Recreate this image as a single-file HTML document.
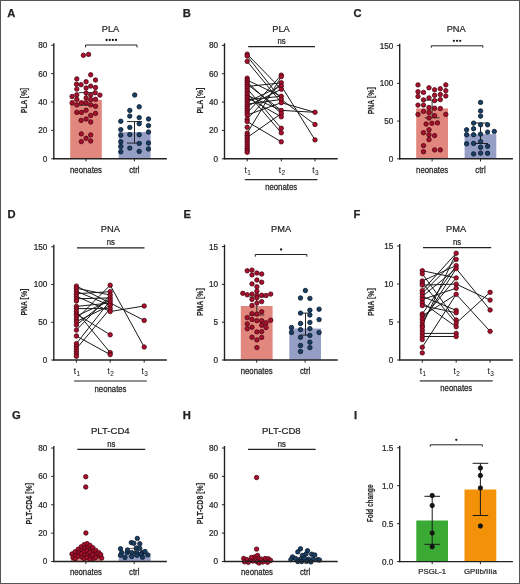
<!DOCTYPE html>
<html><head><meta charset="utf-8"><style>
html,body{margin:0;padding:0;background:#fff;}
svg{display:block;will-change:transform;font-family:"Liberation Sans",sans-serif;}
</style></head><body>
<svg width="520" height="584" viewBox="0 0 520 584">
<rect x="0" y="0" width="520" height="584" fill="#fff"/>
<text x="7.20" y="17.00" font-size="11.2" font-weight="bold" fill="#222" stroke="#222" stroke-width="0.25">A</text>
<text x="110.50" y="31.60" font-size="9.3" text-anchor="middle" font-weight="normal" fill="#262626" stroke="#262626" stroke-width="0.22" >PLA</text>
<rect x="70.20" y="99.86" width="31.60" height="58.89" fill="#e2877d"/>
<rect x="118.70" y="132.10" width="31.90" height="26.65" fill="#959fc6"/>
<line x1="86.50" y1="92.60" x2="86.50" y2="105.20" stroke="#2d3b35" stroke-width="1.0"/>
<line x1="79.00" y1="92.60" x2="94.00" y2="92.60" stroke="#2d3b35" stroke-width="1.0"/>
<line x1="79.00" y1="105.20" x2="94.00" y2="105.20" stroke="#2d3b35" stroke-width="1.0"/>
<line x1="134.50" y1="121.60" x2="134.50" y2="143.10" stroke="#222" stroke-width="1.0"/>
<line x1="127.00" y1="121.60" x2="142.00" y2="121.60" stroke="#222" stroke-width="1.0"/>
<line x1="127.00" y1="143.10" x2="142.00" y2="143.10" stroke="#222" stroke-width="1.0"/>
<circle cx="83.40" cy="55.30" r="2.22" fill="#aa0f2d" stroke="#480611" stroke-width="0.8"/>
<circle cx="88.60" cy="54.40" r="2.22" fill="#aa0f2d" stroke="#480611" stroke-width="0.8"/>
<circle cx="90.70" cy="74.80" r="2.22" fill="#aa0f2d" stroke="#480611" stroke-width="0.8"/>
<circle cx="76.80" cy="78.90" r="2.22" fill="#aa0f2d" stroke="#480611" stroke-width="0.8"/>
<circle cx="95.50" cy="80.00" r="2.22" fill="#aa0f2d" stroke="#480611" stroke-width="0.8"/>
<circle cx="86.10" cy="81.70" r="2.22" fill="#aa0f2d" stroke="#480611" stroke-width="0.8"/>
<circle cx="76.50" cy="84.30" r="2.22" fill="#aa0f2d" stroke="#480611" stroke-width="0.8"/>
<circle cx="81.10" cy="84.70" r="2.22" fill="#aa0f2d" stroke="#480611" stroke-width="0.8"/>
<circle cx="90.70" cy="86.10" r="2.22" fill="#aa0f2d" stroke="#480611" stroke-width="0.8"/>
<circle cx="76.80" cy="89.10" r="2.22" fill="#aa0f2d" stroke="#480611" stroke-width="0.8"/>
<circle cx="86.10" cy="88.00" r="2.22" fill="#aa0f2d" stroke="#480611" stroke-width="0.8"/>
<circle cx="95.50" cy="87.50" r="2.22" fill="#aa0f2d" stroke="#480611" stroke-width="0.8"/>
<circle cx="86.10" cy="93.00" r="2.22" fill="#aa0f2d" stroke="#480611" stroke-width="0.8"/>
<circle cx="90.70" cy="95.10" r="2.22" fill="#aa0f2d" stroke="#480611" stroke-width="0.8"/>
<circle cx="95.20" cy="92.70" r="2.22" fill="#aa0f2d" stroke="#480611" stroke-width="0.8"/>
<circle cx="99.90" cy="95.10" r="2.22" fill="#aa0f2d" stroke="#480611" stroke-width="0.8"/>
<circle cx="72.10" cy="96.50" r="2.22" fill="#aa0f2d" stroke="#480611" stroke-width="0.8"/>
<circle cx="76.80" cy="94.80" r="2.22" fill="#aa0f2d" stroke="#480611" stroke-width="0.8"/>
<circle cx="76.80" cy="99.30" r="2.22" fill="#aa0f2d" stroke="#480611" stroke-width="0.8"/>
<circle cx="86.10" cy="97.90" r="2.22" fill="#aa0f2d" stroke="#480611" stroke-width="0.8"/>
<circle cx="90.70" cy="99.60" r="2.22" fill="#aa0f2d" stroke="#480611" stroke-width="0.8"/>
<circle cx="95.50" cy="99.30" r="2.22" fill="#aa0f2d" stroke="#480611" stroke-width="0.8"/>
<circle cx="72.10" cy="103.00" r="2.22" fill="#aa0f2d" stroke="#480611" stroke-width="0.8"/>
<circle cx="76.80" cy="104.90" r="2.22" fill="#aa0f2d" stroke="#480611" stroke-width="0.8"/>
<circle cx="81.50" cy="103.00" r="2.22" fill="#aa0f2d" stroke="#480611" stroke-width="0.8"/>
<circle cx="86.10" cy="103.00" r="2.22" fill="#aa0f2d" stroke="#480611" stroke-width="0.8"/>
<circle cx="90.70" cy="104.90" r="2.22" fill="#aa0f2d" stroke="#480611" stroke-width="0.8"/>
<circle cx="95.50" cy="106.30" r="2.22" fill="#aa0f2d" stroke="#480611" stroke-width="0.8"/>
<circle cx="76.80" cy="112.40" r="2.22" fill="#aa0f2d" stroke="#480611" stroke-width="0.8"/>
<circle cx="81.50" cy="112.40" r="2.22" fill="#aa0f2d" stroke="#480611" stroke-width="0.8"/>
<circle cx="86.10" cy="110.30" r="2.22" fill="#aa0f2d" stroke="#480611" stroke-width="0.8"/>
<circle cx="90.70" cy="115.50" r="2.22" fill="#aa0f2d" stroke="#480611" stroke-width="0.8"/>
<circle cx="95.50" cy="113.40" r="2.22" fill="#aa0f2d" stroke="#480611" stroke-width="0.8"/>
<circle cx="81.10" cy="120.40" r="2.22" fill="#aa0f2d" stroke="#480611" stroke-width="0.8"/>
<circle cx="86.10" cy="119.00" r="2.22" fill="#aa0f2d" stroke="#480611" stroke-width="0.8"/>
<circle cx="90.70" cy="122.00" r="2.22" fill="#aa0f2d" stroke="#480611" stroke-width="0.8"/>
<circle cx="81.30" cy="133.90" r="2.22" fill="#aa0f2d" stroke="#480611" stroke-width="0.8"/>
<circle cx="90.70" cy="135.00" r="2.22" fill="#aa0f2d" stroke="#480611" stroke-width="0.8"/>
<circle cx="86.10" cy="138.30" r="2.22" fill="#aa0f2d" stroke="#480611" stroke-width="0.8"/>
<circle cx="81.30" cy="141.60" r="2.22" fill="#aa0f2d" stroke="#480611" stroke-width="0.8"/>
<circle cx="90.70" cy="141.00" r="2.22" fill="#aa0f2d" stroke="#480611" stroke-width="0.8"/>
<circle cx="134.70" cy="95.00" r="2.22" fill="#193f62" stroke="#081728" stroke-width="0.8"/>
<circle cx="139.20" cy="106.80" r="2.22" fill="#193f62" stroke="#081728" stroke-width="0.8"/>
<circle cx="129.80" cy="110.40" r="2.22" fill="#193f62" stroke="#081728" stroke-width="0.8"/>
<circle cx="129.80" cy="116.10" r="2.22" fill="#193f62" stroke="#081728" stroke-width="0.8"/>
<circle cx="139.20" cy="117.60" r="2.22" fill="#193f62" stroke="#081728" stroke-width="0.8"/>
<circle cx="120.80" cy="121.30" r="2.22" fill="#193f62" stroke="#081728" stroke-width="0.8"/>
<circle cx="148.50" cy="119.00" r="2.22" fill="#193f62" stroke="#081728" stroke-width="0.8"/>
<circle cx="139.20" cy="123.70" r="2.22" fill="#193f62" stroke="#081728" stroke-width="0.8"/>
<circle cx="129.80" cy="127.40" r="2.22" fill="#193f62" stroke="#081728" stroke-width="0.8"/>
<circle cx="148.50" cy="125.60" r="2.22" fill="#193f62" stroke="#081728" stroke-width="0.8"/>
<circle cx="120.80" cy="129.60" r="2.22" fill="#193f62" stroke="#081728" stroke-width="0.8"/>
<circle cx="148.50" cy="132.00" r="2.22" fill="#193f62" stroke="#081728" stroke-width="0.8"/>
<circle cx="129.80" cy="134.60" r="2.22" fill="#193f62" stroke="#081728" stroke-width="0.8"/>
<circle cx="139.20" cy="134.80" r="2.22" fill="#193f62" stroke="#081728" stroke-width="0.8"/>
<circle cx="120.80" cy="135.20" r="2.22" fill="#193f62" stroke="#081728" stroke-width="0.8"/>
<circle cx="120.80" cy="141.80" r="2.22" fill="#193f62" stroke="#081728" stroke-width="0.8"/>
<circle cx="139.20" cy="143.40" r="2.22" fill="#193f62" stroke="#081728" stroke-width="0.8"/>
<circle cx="148.50" cy="143.00" r="2.22" fill="#193f62" stroke="#081728" stroke-width="0.8"/>
<circle cx="120.80" cy="146.50" r="2.22" fill="#193f62" stroke="#081728" stroke-width="0.8"/>
<circle cx="129.80" cy="148.10" r="2.22" fill="#193f62" stroke="#081728" stroke-width="0.8"/>
<circle cx="148.50" cy="149.00" r="2.22" fill="#193f62" stroke="#081728" stroke-width="0.8"/>
<circle cx="120.80" cy="151.80" r="2.22" fill="#193f62" stroke="#081728" stroke-width="0.8"/>
<circle cx="139.20" cy="151.40" r="2.22" fill="#193f62" stroke="#081728" stroke-width="0.8"/>
<line x1="53.80" y1="43.25" x2="53.80" y2="159.35" stroke="#222" stroke-width="1.4"/>
<line x1="51.20" y1="45.23" x2="53.80" y2="45.23" stroke="#222" stroke-width="1.0"/>
<text x="47.40" y="48.18" font-size="8.2" text-anchor="end" font-weight="normal" fill="#262626" stroke="#262626" stroke-width="0.22" >80</text>
<line x1="51.20" y1="73.61" x2="53.80" y2="73.61" stroke="#222" stroke-width="1.0"/>
<text x="47.40" y="76.56" font-size="8.2" text-anchor="end" font-weight="normal" fill="#262626" stroke="#262626" stroke-width="0.22" >60</text>
<line x1="51.20" y1="101.99" x2="53.80" y2="101.99" stroke="#222" stroke-width="1.0"/>
<text x="47.40" y="104.94" font-size="8.2" text-anchor="end" font-weight="normal" fill="#262626" stroke="#262626" stroke-width="0.22" >40</text>
<line x1="51.20" y1="130.37" x2="53.80" y2="130.37" stroke="#222" stroke-width="1.0"/>
<text x="47.40" y="133.32" font-size="8.2" text-anchor="end" font-weight="normal" fill="#262626" stroke="#262626" stroke-width="0.22" >20</text>
<line x1="51.20" y1="158.75" x2="53.80" y2="158.75" stroke="#222" stroke-width="1.0"/>
<text x="47.40" y="161.70" font-size="8.2" text-anchor="end" font-weight="normal" fill="#262626" stroke="#262626" stroke-width="0.22" >0</text>
<line x1="53.10" y1="158.75" x2="166.90" y2="158.75" stroke="#222" stroke-width="1.4"/>
<line x1="86.00" y1="158.75" x2="86.00" y2="161.35" stroke="#222" stroke-width="1.0"/>
<line x1="134.40" y1="158.75" x2="134.40" y2="161.35" stroke="#222" stroke-width="1.0"/>
<text transform="translate(86.00,173.30) scale(1,1.15)" x="0" y="0" font-size="7.8" text-anchor="middle" font-weight="normal" fill="#262626" stroke="#262626" stroke-width="0.22" >neonates</text>
<text transform="translate(134.40,173.30) scale(1,1.15)" x="0" y="0" font-size="7.8" text-anchor="middle" font-weight="normal" fill="#262626" stroke="#262626" stroke-width="0.22" >ctrl</text>
<text transform="translate(24.30,100.60) rotate(-90) scale(0.76,1)" x="0" y="0" font-size="8.8" text-anchor="middle" font-weight="bold" fill="#2a2a2a" stroke="#2a2a2a" stroke-width="0.15" dominant-baseline="central">PLA [%]</text>
<polyline points="85.60,47.40 85.60,45.00 137.00,45.00 137.00,47.40" fill="none" stroke="#222" stroke-width="1.0"/>
<circle cx="106.58" cy="40.00" r="1.15" fill="#1a1a1a"/>
<circle cx="109.72" cy="40.00" r="1.15" fill="#1a1a1a"/>
<circle cx="112.88" cy="40.00" r="1.15" fill="#1a1a1a"/>
<circle cx="116.02" cy="40.00" r="1.15" fill="#1a1a1a"/>
<text x="182.80" y="17.00" font-size="11.2" font-weight="bold" fill="#222" stroke="#222" stroke-width="0.25">B</text>
<text x="281.00" y="31.60" font-size="9.3" text-anchor="middle" font-weight="normal" fill="#262626" stroke="#262626" stroke-width="0.22" >PLA</text>
<line x1="247.20" y1="54.20" x2="281.30" y2="89.20" stroke="#1a1a1a" stroke-width="1.0"/>
<line x1="247.20" y1="56.00" x2="281.30" y2="99.50" stroke="#1a1a1a" stroke-width="1.0"/>
<line x1="247.20" y1="61.40" x2="281.30" y2="102.70" stroke="#1a1a1a" stroke-width="1.0"/>
<line x1="247.20" y1="112.90" x2="281.30" y2="75.10" stroke="#1a1a1a" stroke-width="1.0"/>
<line x1="247.20" y1="119.20" x2="281.30" y2="82.80" stroke="#1a1a1a" stroke-width="1.0"/>
<line x1="247.20" y1="133.10" x2="281.30" y2="76.60" stroke="#1a1a1a" stroke-width="1.0"/>
<line x1="247.20" y1="121.60" x2="281.30" y2="141.80" stroke="#1a1a1a" stroke-width="1.0"/>
<line x1="247.20" y1="137.50" x2="281.30" y2="113.60" stroke="#1a1a1a" stroke-width="1.0"/>
<line x1="247.20" y1="88.70" x2="281.30" y2="128.30" stroke="#1a1a1a" stroke-width="1.0"/>
<line x1="247.20" y1="93.10" x2="281.30" y2="132.80" stroke="#1a1a1a" stroke-width="1.0"/>
<line x1="247.20" y1="80.20" x2="281.30" y2="96.30" stroke="#1a1a1a" stroke-width="1.0"/>
<line x1="247.20" y1="84.30" x2="281.30" y2="110.40" stroke="#1a1a1a" stroke-width="1.0"/>
<line x1="247.20" y1="97.50" x2="281.30" y2="116.80" stroke="#1a1a1a" stroke-width="1.0"/>
<line x1="247.20" y1="99.70" x2="281.30" y2="96.30" stroke="#1a1a1a" stroke-width="1.0"/>
<line x1="247.20" y1="101.90" x2="281.30" y2="86.00" stroke="#1a1a1a" stroke-width="1.0"/>
<line x1="247.20" y1="104.10" x2="281.30" y2="99.50" stroke="#1a1a1a" stroke-width="1.0"/>
<line x1="247.20" y1="106.30" x2="281.30" y2="89.20" stroke="#1a1a1a" stroke-width="1.0"/>
<line x1="247.20" y1="82.20" x2="281.30" y2="113.60" stroke="#1a1a1a" stroke-width="1.0"/>
<line x1="247.20" y1="95.30" x2="281.30" y2="110.40" stroke="#1a1a1a" stroke-width="1.0"/>
<line x1="247.20" y1="115.00" x2="281.30" y2="102.70" stroke="#1a1a1a" stroke-width="1.0"/>
<line x1="247.20" y1="86.50" x2="281.30" y2="82.80" stroke="#1a1a1a" stroke-width="1.0"/>
<line x1="281.30" y1="86.00" x2="315.00" y2="139.90" stroke="#1a1a1a" stroke-width="1.0"/>
<line x1="281.30" y1="102.70" x2="315.00" y2="112.30" stroke="#1a1a1a" stroke-width="1.0"/>
<line x1="281.30" y1="110.40" x2="315.00" y2="112.30" stroke="#1a1a1a" stroke-width="1.0"/>
<line x1="281.30" y1="99.50" x2="315.00" y2="124.50" stroke="#1a1a1a" stroke-width="1.0"/>
<circle cx="247.20" cy="54.20" r="2.22" fill="#aa0f2d" stroke="#480611" stroke-width="0.8"/>
<circle cx="247.20" cy="56.00" r="2.22" fill="#aa0f2d" stroke="#480611" stroke-width="0.8"/>
<circle cx="247.20" cy="61.40" r="2.22" fill="#aa0f2d" stroke="#480611" stroke-width="0.8"/>
<circle cx="247.20" cy="78.20" r="2.22" fill="#aa0f2d" stroke="#480611" stroke-width="0.8"/>
<circle cx="247.20" cy="80.20" r="2.22" fill="#aa0f2d" stroke="#480611" stroke-width="0.8"/>
<circle cx="247.20" cy="82.20" r="2.22" fill="#aa0f2d" stroke="#480611" stroke-width="0.8"/>
<circle cx="247.20" cy="84.30" r="2.22" fill="#aa0f2d" stroke="#480611" stroke-width="0.8"/>
<circle cx="247.20" cy="86.50" r="2.22" fill="#aa0f2d" stroke="#480611" stroke-width="0.8"/>
<circle cx="247.20" cy="88.70" r="2.22" fill="#aa0f2d" stroke="#480611" stroke-width="0.8"/>
<circle cx="247.20" cy="90.90" r="2.22" fill="#aa0f2d" stroke="#480611" stroke-width="0.8"/>
<circle cx="247.20" cy="93.10" r="2.22" fill="#aa0f2d" stroke="#480611" stroke-width="0.8"/>
<circle cx="247.20" cy="95.30" r="2.22" fill="#aa0f2d" stroke="#480611" stroke-width="0.8"/>
<circle cx="247.20" cy="97.50" r="2.22" fill="#aa0f2d" stroke="#480611" stroke-width="0.8"/>
<circle cx="247.20" cy="99.70" r="2.22" fill="#aa0f2d" stroke="#480611" stroke-width="0.8"/>
<circle cx="247.20" cy="101.90" r="2.22" fill="#aa0f2d" stroke="#480611" stroke-width="0.8"/>
<circle cx="247.20" cy="104.10" r="2.22" fill="#aa0f2d" stroke="#480611" stroke-width="0.8"/>
<circle cx="247.20" cy="106.30" r="2.22" fill="#aa0f2d" stroke="#480611" stroke-width="0.8"/>
<circle cx="247.20" cy="108.50" r="2.22" fill="#aa0f2d" stroke="#480611" stroke-width="0.8"/>
<circle cx="247.20" cy="110.70" r="2.22" fill="#aa0f2d" stroke="#480611" stroke-width="0.8"/>
<circle cx="247.20" cy="112.90" r="2.22" fill="#aa0f2d" stroke="#480611" stroke-width="0.8"/>
<circle cx="247.20" cy="115.00" r="2.22" fill="#aa0f2d" stroke="#480611" stroke-width="0.8"/>
<circle cx="247.20" cy="119.20" r="2.22" fill="#aa0f2d" stroke="#480611" stroke-width="0.8"/>
<circle cx="247.20" cy="121.60" r="2.22" fill="#aa0f2d" stroke="#480611" stroke-width="0.8"/>
<circle cx="247.20" cy="127.30" r="2.22" fill="#aa0f2d" stroke="#480611" stroke-width="0.8"/>
<circle cx="247.20" cy="133.10" r="2.22" fill="#aa0f2d" stroke="#480611" stroke-width="0.8"/>
<circle cx="247.20" cy="135.30" r="2.22" fill="#aa0f2d" stroke="#480611" stroke-width="0.8"/>
<circle cx="247.20" cy="137.50" r="2.22" fill="#aa0f2d" stroke="#480611" stroke-width="0.8"/>
<circle cx="247.20" cy="139.70" r="2.22" fill="#aa0f2d" stroke="#480611" stroke-width="0.8"/>
<circle cx="247.20" cy="141.90" r="2.22" fill="#aa0f2d" stroke="#480611" stroke-width="0.8"/>
<circle cx="247.20" cy="144.10" r="2.22" fill="#aa0f2d" stroke="#480611" stroke-width="0.8"/>
<circle cx="247.20" cy="146.30" r="2.22" fill="#aa0f2d" stroke="#480611" stroke-width="0.8"/>
<circle cx="247.20" cy="148.50" r="2.22" fill="#aa0f2d" stroke="#480611" stroke-width="0.8"/>
<circle cx="247.20" cy="150.50" r="2.22" fill="#aa0f2d" stroke="#480611" stroke-width="0.8"/>
<circle cx="247.20" cy="152.30" r="2.22" fill="#aa0f2d" stroke="#480611" stroke-width="0.8"/>
<circle cx="281.30" cy="75.10" r="2.22" fill="#aa0f2d" stroke="#480611" stroke-width="0.8"/>
<circle cx="281.30" cy="76.60" r="2.22" fill="#aa0f2d" stroke="#480611" stroke-width="0.8"/>
<circle cx="281.30" cy="82.80" r="2.22" fill="#aa0f2d" stroke="#480611" stroke-width="0.8"/>
<circle cx="281.30" cy="86.00" r="2.22" fill="#aa0f2d" stroke="#480611" stroke-width="0.8"/>
<circle cx="281.30" cy="89.20" r="2.22" fill="#aa0f2d" stroke="#480611" stroke-width="0.8"/>
<circle cx="281.30" cy="96.30" r="2.22" fill="#aa0f2d" stroke="#480611" stroke-width="0.8"/>
<circle cx="281.30" cy="99.50" r="2.22" fill="#aa0f2d" stroke="#480611" stroke-width="0.8"/>
<circle cx="281.30" cy="102.70" r="2.22" fill="#aa0f2d" stroke="#480611" stroke-width="0.8"/>
<circle cx="281.30" cy="110.40" r="2.22" fill="#aa0f2d" stroke="#480611" stroke-width="0.8"/>
<circle cx="281.30" cy="113.60" r="2.22" fill="#aa0f2d" stroke="#480611" stroke-width="0.8"/>
<circle cx="281.30" cy="116.80" r="2.22" fill="#aa0f2d" stroke="#480611" stroke-width="0.8"/>
<circle cx="281.30" cy="128.30" r="2.22" fill="#aa0f2d" stroke="#480611" stroke-width="0.8"/>
<circle cx="281.30" cy="132.80" r="2.22" fill="#aa0f2d" stroke="#480611" stroke-width="0.8"/>
<circle cx="281.30" cy="141.80" r="2.22" fill="#aa0f2d" stroke="#480611" stroke-width="0.8"/>
<circle cx="315.00" cy="112.30" r="2.22" fill="#aa0f2d" stroke="#480611" stroke-width="0.8"/>
<circle cx="315.00" cy="124.50" r="2.22" fill="#aa0f2d" stroke="#480611" stroke-width="0.8"/>
<circle cx="315.00" cy="139.90" r="2.22" fill="#aa0f2d" stroke="#480611" stroke-width="0.8"/>
<line x1="224.50" y1="43.25" x2="224.50" y2="159.35" stroke="#222" stroke-width="1.4"/>
<line x1="221.90" y1="45.41" x2="224.50" y2="45.41" stroke="#222" stroke-width="1.0"/>
<text x="218.10" y="48.36" font-size="8.2" text-anchor="end" font-weight="normal" fill="#262626" stroke="#262626" stroke-width="0.22" >80</text>
<line x1="221.90" y1="73.75" x2="224.50" y2="73.75" stroke="#222" stroke-width="1.0"/>
<text x="218.10" y="76.70" font-size="8.2" text-anchor="end" font-weight="normal" fill="#262626" stroke="#262626" stroke-width="0.22" >60</text>
<line x1="221.90" y1="102.08" x2="224.50" y2="102.08" stroke="#222" stroke-width="1.0"/>
<text x="218.10" y="105.03" font-size="8.2" text-anchor="end" font-weight="normal" fill="#262626" stroke="#262626" stroke-width="0.22" >40</text>
<line x1="221.90" y1="130.42" x2="224.50" y2="130.42" stroke="#222" stroke-width="1.0"/>
<text x="218.10" y="133.37" font-size="8.2" text-anchor="end" font-weight="normal" fill="#262626" stroke="#262626" stroke-width="0.22" >20</text>
<line x1="221.90" y1="158.75" x2="224.50" y2="158.75" stroke="#222" stroke-width="1.0"/>
<text x="218.10" y="161.70" font-size="8.2" text-anchor="end" font-weight="normal" fill="#262626" stroke="#262626" stroke-width="0.22" >0</text>
<line x1="223.80" y1="158.75" x2="337.70" y2="158.75" stroke="#222" stroke-width="1.4"/>
<line x1="247.20" y1="158.75" x2="247.20" y2="161.35" stroke="#222" stroke-width="1.0"/>
<line x1="281.30" y1="158.75" x2="281.30" y2="161.35" stroke="#222" stroke-width="1.0"/>
<line x1="315.00" y1="158.75" x2="315.00" y2="161.35" stroke="#222" stroke-width="1.0"/>
<text x="245.70" y="173.20" font-size="8.2" text-anchor="middle" font-weight="normal" fill="#262626" stroke="#262626" stroke-width="0.12" >t</text>
<text x="247.30" y="175.40" font-size="6.4" text-anchor="start" font-weight="normal" fill="#262626" stroke="#262626" stroke-width="0.05" >1</text>
<text x="279.80" y="173.20" font-size="8.2" text-anchor="middle" font-weight="normal" fill="#262626" stroke="#262626" stroke-width="0.12" >t</text>
<text x="281.40" y="175.40" font-size="6.4" text-anchor="start" font-weight="normal" fill="#262626" stroke="#262626" stroke-width="0.05" >2</text>
<text x="313.50" y="173.20" font-size="8.2" text-anchor="middle" font-weight="normal" fill="#262626" stroke="#262626" stroke-width="0.12" >t</text>
<text x="315.10" y="175.40" font-size="6.4" text-anchor="start" font-weight="normal" fill="#262626" stroke="#262626" stroke-width="0.05" >3</text>
<line x1="245.30" y1="179.60" x2="317.00" y2="179.60" stroke="#2a2a2a" stroke-width="1.3" stroke-linecap="round"/>
<text transform="translate(281.15,190.30) scale(1,1.15)" x="0" y="0" font-size="7.8" text-anchor="middle" font-weight="normal" fill="#262626" stroke="#262626" stroke-width="0.22" >neonates</text>
<text transform="translate(200.00,100.60) rotate(-90) scale(0.78,1)" x="0" y="0" font-size="8.8" text-anchor="middle" font-weight="bold" fill="#2a2a2a" stroke="#2a2a2a" stroke-width="0.15" dominant-baseline="central">PLA [%]</text>
<line x1="248.20" y1="46.70" x2="315.00" y2="46.70" stroke="#222" stroke-width="1.2"/>
<text transform="translate(281.60,44.00) scale(1,1.12)" x="0" y="0" font-size="7.7" text-anchor="middle" font-weight="normal" fill="#262626" stroke="#262626" stroke-width="0.22" >ns</text>
<text x="353.60" y="17.00" font-size="11.2" font-weight="bold" fill="#222" stroke="#222" stroke-width="0.25">C</text>
<text x="456.20" y="31.60" font-size="9.3" text-anchor="middle" font-weight="normal" fill="#262626" stroke="#262626" stroke-width="0.22" >PNA</text>
<rect x="416.20" y="108.40" width="31.80" height="50.40" fill="#e2877d"/>
<rect x="464.60" y="134.10" width="31.70" height="24.70" fill="#959fc6"/>
<line x1="432.10" y1="100.20" x2="432.10" y2="117.80" stroke="#2d3b35" stroke-width="1.0"/>
<line x1="424.60" y1="100.20" x2="439.60" y2="100.20" stroke="#2d3b35" stroke-width="1.0"/>
<line x1="424.60" y1="117.80" x2="439.60" y2="117.80" stroke="#2d3b35" stroke-width="1.0"/>
<line x1="480.50" y1="123.00" x2="480.50" y2="143.50" stroke="#222" stroke-width="1.0"/>
<line x1="473.00" y1="123.00" x2="488.00" y2="123.00" stroke="#222" stroke-width="1.0"/>
<line x1="473.00" y1="143.50" x2="488.00" y2="143.50" stroke="#222" stroke-width="1.0"/>
<circle cx="418.00" cy="84.90" r="2.22" fill="#aa0f2d" stroke="#480611" stroke-width="0.8"/>
<circle cx="445.80" cy="84.90" r="2.22" fill="#aa0f2d" stroke="#480611" stroke-width="0.8"/>
<circle cx="429.00" cy="87.80" r="2.22" fill="#aa0f2d" stroke="#480611" stroke-width="0.8"/>
<circle cx="434.60" cy="89.80" r="2.22" fill="#aa0f2d" stroke="#480611" stroke-width="0.8"/>
<circle cx="440.30" cy="88.80" r="2.22" fill="#aa0f2d" stroke="#480611" stroke-width="0.8"/>
<circle cx="418.00" cy="91.70" r="2.22" fill="#aa0f2d" stroke="#480611" stroke-width="0.8"/>
<circle cx="423.50" cy="92.40" r="2.22" fill="#aa0f2d" stroke="#480611" stroke-width="0.8"/>
<circle cx="445.80" cy="90.70" r="2.22" fill="#aa0f2d" stroke="#480611" stroke-width="0.8"/>
<circle cx="434.60" cy="95.30" r="2.22" fill="#aa0f2d" stroke="#480611" stroke-width="0.8"/>
<circle cx="440.30" cy="94.50" r="2.22" fill="#aa0f2d" stroke="#480611" stroke-width="0.8"/>
<circle cx="418.00" cy="96.40" r="2.22" fill="#aa0f2d" stroke="#480611" stroke-width="0.8"/>
<circle cx="429.00" cy="97.90" r="2.22" fill="#aa0f2d" stroke="#480611" stroke-width="0.8"/>
<circle cx="445.80" cy="96.00" r="2.22" fill="#aa0f2d" stroke="#480611" stroke-width="0.8"/>
<circle cx="423.50" cy="99.90" r="2.22" fill="#aa0f2d" stroke="#480611" stroke-width="0.8"/>
<circle cx="434.60" cy="100.60" r="2.22" fill="#aa0f2d" stroke="#480611" stroke-width="0.8"/>
<circle cx="440.30" cy="99.60" r="2.22" fill="#aa0f2d" stroke="#480611" stroke-width="0.8"/>
<circle cx="418.00" cy="105.10" r="2.22" fill="#aa0f2d" stroke="#480611" stroke-width="0.8"/>
<circle cx="423.50" cy="105.10" r="2.22" fill="#aa0f2d" stroke="#480611" stroke-width="0.8"/>
<circle cx="429.00" cy="107.50" r="2.22" fill="#aa0f2d" stroke="#480611" stroke-width="0.8"/>
<circle cx="434.60" cy="108.20" r="2.22" fill="#aa0f2d" stroke="#480611" stroke-width="0.8"/>
<circle cx="440.30" cy="108.50" r="2.22" fill="#aa0f2d" stroke="#480611" stroke-width="0.8"/>
<circle cx="423.50" cy="111.40" r="2.22" fill="#aa0f2d" stroke="#480611" stroke-width="0.8"/>
<circle cx="429.00" cy="112.50" r="2.22" fill="#aa0f2d" stroke="#480611" stroke-width="0.8"/>
<circle cx="418.00" cy="114.40" r="2.22" fill="#aa0f2d" stroke="#480611" stroke-width="0.8"/>
<circle cx="445.80" cy="114.40" r="2.22" fill="#aa0f2d" stroke="#480611" stroke-width="0.8"/>
<circle cx="434.60" cy="115.70" r="2.22" fill="#aa0f2d" stroke="#480611" stroke-width="0.8"/>
<circle cx="429.00" cy="118.00" r="2.22" fill="#aa0f2d" stroke="#480611" stroke-width="0.8"/>
<circle cx="426.10" cy="124.00" r="2.22" fill="#aa0f2d" stroke="#480611" stroke-width="0.8"/>
<circle cx="431.90" cy="123.30" r="2.22" fill="#aa0f2d" stroke="#480611" stroke-width="0.8"/>
<circle cx="437.50" cy="122.90" r="2.22" fill="#aa0f2d" stroke="#480611" stroke-width="0.8"/>
<circle cx="429.00" cy="129.80" r="2.22" fill="#aa0f2d" stroke="#480611" stroke-width="0.8"/>
<circle cx="423.50" cy="132.70" r="2.22" fill="#aa0f2d" stroke="#480611" stroke-width="0.8"/>
<circle cx="429.00" cy="134.80" r="2.22" fill="#aa0f2d" stroke="#480611" stroke-width="0.8"/>
<circle cx="434.60" cy="135.60" r="2.22" fill="#aa0f2d" stroke="#480611" stroke-width="0.8"/>
<circle cx="429.00" cy="139.60" r="2.22" fill="#aa0f2d" stroke="#480611" stroke-width="0.8"/>
<circle cx="423.50" cy="145.60" r="2.22" fill="#aa0f2d" stroke="#480611" stroke-width="0.8"/>
<circle cx="423.50" cy="151.70" r="2.22" fill="#aa0f2d" stroke="#480611" stroke-width="0.8"/>
<circle cx="434.60" cy="149.90" r="2.22" fill="#aa0f2d" stroke="#480611" stroke-width="0.8"/>
<circle cx="440.30" cy="149.90" r="2.22" fill="#aa0f2d" stroke="#480611" stroke-width="0.8"/>
<circle cx="480.60" cy="102.40" r="2.22" fill="#193f62" stroke="#081728" stroke-width="0.8"/>
<circle cx="480.60" cy="110.90" r="2.22" fill="#193f62" stroke="#081728" stroke-width="0.8"/>
<circle cx="480.60" cy="116.10" r="2.22" fill="#193f62" stroke="#081728" stroke-width="0.8"/>
<circle cx="473.60" cy="123.10" r="2.22" fill="#193f62" stroke="#081728" stroke-width="0.8"/>
<circle cx="480.60" cy="124.80" r="2.22" fill="#193f62" stroke="#081728" stroke-width="0.8"/>
<circle cx="487.60" cy="124.80" r="2.22" fill="#193f62" stroke="#081728" stroke-width="0.8"/>
<circle cx="466.60" cy="129.80" r="2.22" fill="#193f62" stroke="#081728" stroke-width="0.8"/>
<circle cx="473.60" cy="128.70" r="2.22" fill="#193f62" stroke="#081728" stroke-width="0.8"/>
<circle cx="487.60" cy="132.10" r="2.22" fill="#193f62" stroke="#081728" stroke-width="0.8"/>
<circle cx="494.30" cy="131.40" r="2.22" fill="#193f62" stroke="#081728" stroke-width="0.8"/>
<circle cx="466.60" cy="134.70" r="2.22" fill="#193f62" stroke="#081728" stroke-width="0.8"/>
<circle cx="473.60" cy="134.70" r="2.22" fill="#193f62" stroke="#081728" stroke-width="0.8"/>
<circle cx="480.60" cy="134.10" r="2.22" fill="#193f62" stroke="#081728" stroke-width="0.8"/>
<circle cx="466.60" cy="143.80" r="2.22" fill="#193f62" stroke="#081728" stroke-width="0.8"/>
<circle cx="473.60" cy="143.40" r="2.22" fill="#193f62" stroke="#081728" stroke-width="0.8"/>
<circle cx="480.60" cy="141.70" r="2.22" fill="#193f62" stroke="#081728" stroke-width="0.8"/>
<circle cx="480.60" cy="147.30" r="2.22" fill="#193f62" stroke="#081728" stroke-width="0.8"/>
<circle cx="487.60" cy="146.30" r="2.22" fill="#193f62" stroke="#081728" stroke-width="0.8"/>
<circle cx="473.60" cy="153.90" r="2.22" fill="#193f62" stroke="#081728" stroke-width="0.8"/>
<circle cx="480.60" cy="153.10" r="2.22" fill="#193f62" stroke="#081728" stroke-width="0.8"/>
<circle cx="487.60" cy="153.30" r="2.22" fill="#193f62" stroke="#081728" stroke-width="0.8"/>
<line x1="399.70" y1="43.75" x2="399.70" y2="159.40" stroke="#222" stroke-width="1.4"/>
<line x1="397.10" y1="45.63" x2="399.70" y2="45.63" stroke="#222" stroke-width="1.0"/>
<text x="393.30" y="48.58" font-size="8.2" text-anchor="end" font-weight="normal" fill="#262626" stroke="#262626" stroke-width="0.22" >150</text>
<line x1="397.10" y1="83.35" x2="399.70" y2="83.35" stroke="#222" stroke-width="1.0"/>
<text x="393.30" y="86.30" font-size="8.2" text-anchor="end" font-weight="normal" fill="#262626" stroke="#262626" stroke-width="0.22" >100</text>
<line x1="397.10" y1="121.08" x2="399.70" y2="121.08" stroke="#222" stroke-width="1.0"/>
<text x="393.30" y="124.03" font-size="8.2" text-anchor="end" font-weight="normal" fill="#262626" stroke="#262626" stroke-width="0.22" >50</text>
<line x1="397.10" y1="158.80" x2="399.70" y2="158.80" stroke="#222" stroke-width="1.0"/>
<text x="393.30" y="161.75" font-size="8.2" text-anchor="end" font-weight="normal" fill="#262626" stroke="#262626" stroke-width="0.22" >0</text>
<line x1="399.00" y1="158.80" x2="512.90" y2="158.80" stroke="#222" stroke-width="1.4"/>
<line x1="432.10" y1="158.80" x2="432.10" y2="161.40" stroke="#222" stroke-width="1.0"/>
<line x1="480.50" y1="158.80" x2="480.50" y2="161.40" stroke="#222" stroke-width="1.0"/>
<text transform="translate(432.10,173.10) scale(1,1.15)" x="0" y="0" font-size="7.8" text-anchor="middle" font-weight="normal" fill="#262626" stroke="#262626" stroke-width="0.22" >neonates</text>
<text transform="translate(480.50,173.10) scale(1,1.15)" x="0" y="0" font-size="7.8" text-anchor="middle" font-weight="normal" fill="#262626" stroke="#262626" stroke-width="0.22" >ctrl</text>
<text transform="translate(370.80,100.80) rotate(-90) scale(0.79,1)" x="0" y="0" font-size="8.8" text-anchor="middle" font-weight="bold" fill="#2a2a2a" stroke="#2a2a2a" stroke-width="0.15" dominant-baseline="central">PNA [%]</text>
<polyline points="431.30,47.70 431.30,45.80 482.80,45.80 482.80,47.70" fill="none" stroke="#222" stroke-width="1.0"/>
<circle cx="453.90" cy="40.80" r="1.15" fill="#1a1a1a"/>
<circle cx="457.05" cy="40.80" r="1.15" fill="#1a1a1a"/>
<circle cx="460.20" cy="40.80" r="1.15" fill="#1a1a1a"/>
<text x="7.40" y="218.20" font-size="11.2" font-weight="bold" fill="#222" stroke="#222" stroke-width="0.25">D</text>
<text x="110.30" y="232.00" font-size="9.3" text-anchor="middle" font-weight="normal" fill="#262626" stroke="#262626" stroke-width="0.22" >PNA</text>
<line x1="76.40" y1="288.30" x2="110.20" y2="295.00" stroke="#1a1a1a" stroke-width="1.0"/>
<line x1="76.40" y1="291.20" x2="110.20" y2="305.50" stroke="#1a1a1a" stroke-width="1.0"/>
<line x1="76.40" y1="293.70" x2="110.20" y2="291.70" stroke="#1a1a1a" stroke-width="1.0"/>
<line x1="76.40" y1="296.20" x2="110.20" y2="311.50" stroke="#1a1a1a" stroke-width="1.0"/>
<line x1="76.40" y1="298.80" x2="110.20" y2="297.90" stroke="#1a1a1a" stroke-width="1.0"/>
<line x1="76.40" y1="306.40" x2="110.20" y2="303.00" stroke="#1a1a1a" stroke-width="1.0"/>
<line x1="76.40" y1="308.60" x2="110.20" y2="308.60" stroke="#1a1a1a" stroke-width="1.0"/>
<line x1="76.40" y1="311.50" x2="110.20" y2="352.60" stroke="#1a1a1a" stroke-width="1.0"/>
<line x1="76.40" y1="314.00" x2="110.20" y2="334.80" stroke="#1a1a1a" stroke-width="1.0"/>
<line x1="76.40" y1="316.00" x2="110.20" y2="300.50" stroke="#1a1a1a" stroke-width="1.0"/>
<line x1="76.40" y1="319.10" x2="110.20" y2="285.20" stroke="#1a1a1a" stroke-width="1.0"/>
<line x1="76.40" y1="321.60" x2="110.20" y2="305.50" stroke="#1a1a1a" stroke-width="1.0"/>
<line x1="76.40" y1="325.00" x2="110.20" y2="297.90" stroke="#1a1a1a" stroke-width="1.0"/>
<line x1="76.40" y1="330.10" x2="110.20" y2="295.00" stroke="#1a1a1a" stroke-width="1.0"/>
<line x1="76.40" y1="336.00" x2="110.20" y2="354.60" stroke="#1a1a1a" stroke-width="1.0"/>
<line x1="76.40" y1="343.60" x2="110.20" y2="300.50" stroke="#1a1a1a" stroke-width="1.0"/>
<line x1="76.40" y1="348.70" x2="110.20" y2="308.60" stroke="#1a1a1a" stroke-width="1.0"/>
<line x1="76.40" y1="286.10" x2="110.20" y2="303.00" stroke="#1a1a1a" stroke-width="1.0"/>
<line x1="110.20" y1="285.20" x2="144.20" y2="347.00" stroke="#1a1a1a" stroke-width="1.0"/>
<line x1="110.20" y1="311.50" x2="144.20" y2="306.00" stroke="#1a1a1a" stroke-width="1.0"/>
<line x1="110.20" y1="303.00" x2="144.20" y2="320.40" stroke="#1a1a1a" stroke-width="1.0"/>
<circle cx="76.40" cy="286.10" r="2.22" fill="#aa0f2d" stroke="#480611" stroke-width="0.8"/>
<circle cx="76.40" cy="288.30" r="2.22" fill="#aa0f2d" stroke="#480611" stroke-width="0.8"/>
<circle cx="76.40" cy="291.20" r="2.22" fill="#aa0f2d" stroke="#480611" stroke-width="0.8"/>
<circle cx="76.40" cy="293.70" r="2.22" fill="#aa0f2d" stroke="#480611" stroke-width="0.8"/>
<circle cx="76.40" cy="296.20" r="2.22" fill="#aa0f2d" stroke="#480611" stroke-width="0.8"/>
<circle cx="76.40" cy="298.80" r="2.22" fill="#aa0f2d" stroke="#480611" stroke-width="0.8"/>
<circle cx="76.40" cy="301.00" r="2.22" fill="#aa0f2d" stroke="#480611" stroke-width="0.8"/>
<circle cx="76.40" cy="306.40" r="2.22" fill="#aa0f2d" stroke="#480611" stroke-width="0.8"/>
<circle cx="76.40" cy="308.60" r="2.22" fill="#aa0f2d" stroke="#480611" stroke-width="0.8"/>
<circle cx="76.40" cy="311.50" r="2.22" fill="#aa0f2d" stroke="#480611" stroke-width="0.8"/>
<circle cx="76.40" cy="314.00" r="2.22" fill="#aa0f2d" stroke="#480611" stroke-width="0.8"/>
<circle cx="76.40" cy="316.00" r="2.22" fill="#aa0f2d" stroke="#480611" stroke-width="0.8"/>
<circle cx="76.40" cy="319.10" r="2.22" fill="#aa0f2d" stroke="#480611" stroke-width="0.8"/>
<circle cx="76.40" cy="321.60" r="2.22" fill="#aa0f2d" stroke="#480611" stroke-width="0.8"/>
<circle cx="76.40" cy="325.00" r="2.22" fill="#aa0f2d" stroke="#480611" stroke-width="0.8"/>
<circle cx="76.40" cy="330.10" r="2.22" fill="#aa0f2d" stroke="#480611" stroke-width="0.8"/>
<circle cx="76.40" cy="336.00" r="2.22" fill="#aa0f2d" stroke="#480611" stroke-width="0.8"/>
<circle cx="76.40" cy="343.60" r="2.22" fill="#aa0f2d" stroke="#480611" stroke-width="0.8"/>
<circle cx="76.40" cy="346.20" r="2.22" fill="#aa0f2d" stroke="#480611" stroke-width="0.8"/>
<circle cx="76.40" cy="348.70" r="2.22" fill="#aa0f2d" stroke="#480611" stroke-width="0.8"/>
<circle cx="76.40" cy="351.20" r="2.22" fill="#aa0f2d" stroke="#480611" stroke-width="0.8"/>
<circle cx="76.40" cy="353.80" r="2.22" fill="#aa0f2d" stroke="#480611" stroke-width="0.8"/>
<circle cx="76.40" cy="356.30" r="2.22" fill="#aa0f2d" stroke="#480611" stroke-width="0.8"/>
<circle cx="110.20" cy="285.20" r="2.22" fill="#aa0f2d" stroke="#480611" stroke-width="0.8"/>
<circle cx="110.20" cy="291.70" r="2.22" fill="#aa0f2d" stroke="#480611" stroke-width="0.8"/>
<circle cx="110.20" cy="295.00" r="2.22" fill="#aa0f2d" stroke="#480611" stroke-width="0.8"/>
<circle cx="110.20" cy="297.90" r="2.22" fill="#aa0f2d" stroke="#480611" stroke-width="0.8"/>
<circle cx="110.20" cy="300.50" r="2.22" fill="#aa0f2d" stroke="#480611" stroke-width="0.8"/>
<circle cx="110.20" cy="303.00" r="2.22" fill="#aa0f2d" stroke="#480611" stroke-width="0.8"/>
<circle cx="110.20" cy="305.50" r="2.22" fill="#aa0f2d" stroke="#480611" stroke-width="0.8"/>
<circle cx="110.20" cy="308.60" r="2.22" fill="#aa0f2d" stroke="#480611" stroke-width="0.8"/>
<circle cx="110.20" cy="311.50" r="2.22" fill="#aa0f2d" stroke="#480611" stroke-width="0.8"/>
<circle cx="110.20" cy="334.80" r="2.22" fill="#aa0f2d" stroke="#480611" stroke-width="0.8"/>
<circle cx="110.20" cy="352.60" r="2.22" fill="#aa0f2d" stroke="#480611" stroke-width="0.8"/>
<circle cx="110.20" cy="354.60" r="2.22" fill="#aa0f2d" stroke="#480611" stroke-width="0.8"/>
<circle cx="144.20" cy="306.00" r="2.22" fill="#aa0f2d" stroke="#480611" stroke-width="0.8"/>
<circle cx="144.20" cy="320.40" r="2.22" fill="#aa0f2d" stroke="#480611" stroke-width="0.8"/>
<circle cx="144.20" cy="347.00" r="2.22" fill="#aa0f2d" stroke="#480611" stroke-width="0.8"/>
<line x1="53.80" y1="244.79" x2="53.80" y2="360.60" stroke="#222" stroke-width="1.4"/>
<line x1="51.20" y1="246.79" x2="53.80" y2="246.79" stroke="#222" stroke-width="1.0"/>
<text x="47.40" y="249.74" font-size="8.2" text-anchor="end" font-weight="normal" fill="#262626" stroke="#262626" stroke-width="0.22" >150</text>
<line x1="51.20" y1="284.53" x2="53.80" y2="284.53" stroke="#222" stroke-width="1.0"/>
<text x="47.40" y="287.48" font-size="8.2" text-anchor="end" font-weight="normal" fill="#262626" stroke="#262626" stroke-width="0.22" >100</text>
<line x1="51.20" y1="322.26" x2="53.80" y2="322.26" stroke="#222" stroke-width="1.0"/>
<text x="47.40" y="325.21" font-size="8.2" text-anchor="end" font-weight="normal" fill="#262626" stroke="#262626" stroke-width="0.22" >50</text>
<line x1="51.20" y1="360.00" x2="53.80" y2="360.00" stroke="#222" stroke-width="1.0"/>
<text x="47.40" y="362.95" font-size="8.2" text-anchor="end" font-weight="normal" fill="#262626" stroke="#262626" stroke-width="0.22" >0</text>
<line x1="53.10" y1="360.00" x2="166.90" y2="360.00" stroke="#222" stroke-width="1.4"/>
<line x1="76.40" y1="360.00" x2="76.40" y2="362.60" stroke="#222" stroke-width="1.0"/>
<line x1="110.20" y1="360.00" x2="110.20" y2="362.60" stroke="#222" stroke-width="1.0"/>
<line x1="144.20" y1="360.00" x2="144.20" y2="362.60" stroke="#222" stroke-width="1.0"/>
<text x="74.90" y="373.80" font-size="8.2" text-anchor="middle" font-weight="normal" fill="#262626" stroke="#262626" stroke-width="0.12" >t</text>
<text x="76.50" y="376.00" font-size="6.4" text-anchor="start" font-weight="normal" fill="#262626" stroke="#262626" stroke-width="0.05" >1</text>
<text x="108.70" y="373.80" font-size="8.2" text-anchor="middle" font-weight="normal" fill="#262626" stroke="#262626" stroke-width="0.12" >t</text>
<text x="110.30" y="376.00" font-size="6.4" text-anchor="start" font-weight="normal" fill="#262626" stroke="#262626" stroke-width="0.05" >2</text>
<text x="142.70" y="373.80" font-size="8.2" text-anchor="middle" font-weight="normal" fill="#262626" stroke="#262626" stroke-width="0.12" >t</text>
<text x="144.30" y="376.00" font-size="6.4" text-anchor="start" font-weight="normal" fill="#262626" stroke="#262626" stroke-width="0.05" >3</text>
<line x1="74.80" y1="381.00" x2="146.20" y2="381.00" stroke="#6c6c6c" stroke-width="1.7" stroke-linecap="round"/>
<text transform="translate(110.50,391.60) scale(1,1.15)" x="0" y="0" font-size="7.8" text-anchor="middle" font-weight="normal" fill="#262626" stroke="#262626" stroke-width="0.22" >neonates</text>
<text transform="translate(24.60,302.10) rotate(-90) scale(0.78,1)" x="0" y="0" font-size="8.8" text-anchor="middle" font-weight="bold" fill="#2a2a2a" stroke="#2a2a2a" stroke-width="0.15" dominant-baseline="central">PNA [%]</text>
<line x1="77.00" y1="247.80" x2="144.50" y2="247.80" stroke="#222" stroke-width="1.2"/>
<text transform="translate(110.75,245.10) scale(1,1.12)" x="0" y="0" font-size="7.7" text-anchor="middle" font-weight="normal" fill="#262626" stroke="#262626" stroke-width="0.22" >ns</text>
<text x="183.60" y="218.20" font-size="11.2" font-weight="bold" fill="#222" stroke="#222" stroke-width="0.25">E</text>
<text x="281.20" y="232.40" font-size="9.3" text-anchor="middle" font-weight="normal" fill="#262626" stroke="#262626" stroke-width="0.22" >PMA</text>
<rect x="240.80" y="306.00" width="31.80" height="54.00" fill="#e2877d"/>
<rect x="289.30" y="328.50" width="31.70" height="31.50" fill="#959fc6"/>
<line x1="256.80" y1="297.00" x2="256.80" y2="315.00" stroke="#3a2a2a" stroke-width="1.0"/>
<line x1="249.20" y1="297.00" x2="264.40" y2="297.00" stroke="#3a2a2a" stroke-width="1.0"/>
<line x1="249.20" y1="315.00" x2="264.40" y2="315.00" stroke="#3a2a2a" stroke-width="1.0"/>
<line x1="305.50" y1="313.10" x2="305.50" y2="335.10" stroke="#222" stroke-width="1.0"/>
<line x1="300.70" y1="313.10" x2="310.30" y2="313.10" stroke="#222" stroke-width="1.0"/>
<line x1="300.70" y1="335.10" x2="310.30" y2="335.10" stroke="#222" stroke-width="1.0"/>
<circle cx="247.20" cy="270.80" r="2.22" fill="#aa0f2d" stroke="#480611" stroke-width="0.8"/>
<circle cx="252.00" cy="270.10" r="2.22" fill="#aa0f2d" stroke="#480611" stroke-width="0.8"/>
<circle cx="252.00" cy="274.90" r="2.22" fill="#aa0f2d" stroke="#480611" stroke-width="0.8"/>
<circle cx="256.90" cy="273.00" r="2.22" fill="#aa0f2d" stroke="#480611" stroke-width="0.8"/>
<circle cx="261.70" cy="274.00" r="2.22" fill="#aa0f2d" stroke="#480611" stroke-width="0.8"/>
<circle cx="256.90" cy="280.00" r="2.22" fill="#aa0f2d" stroke="#480611" stroke-width="0.8"/>
<circle cx="261.70" cy="282.20" r="2.22" fill="#aa0f2d" stroke="#480611" stroke-width="0.8"/>
<circle cx="252.00" cy="283.90" r="2.22" fill="#aa0f2d" stroke="#480611" stroke-width="0.8"/>
<circle cx="256.90" cy="286.80" r="2.22" fill="#aa0f2d" stroke="#480611" stroke-width="0.8"/>
<circle cx="256.90" cy="291.20" r="2.22" fill="#aa0f2d" stroke="#480611" stroke-width="0.8"/>
<circle cx="242.80" cy="293.30" r="2.22" fill="#aa0f2d" stroke="#480611" stroke-width="0.8"/>
<circle cx="247.20" cy="294.80" r="2.22" fill="#aa0f2d" stroke="#480611" stroke-width="0.8"/>
<circle cx="252.00" cy="294.10" r="2.22" fill="#aa0f2d" stroke="#480611" stroke-width="0.8"/>
<circle cx="256.90" cy="295.50" r="2.22" fill="#aa0f2d" stroke="#480611" stroke-width="0.8"/>
<circle cx="261.70" cy="295.20" r="2.22" fill="#aa0f2d" stroke="#480611" stroke-width="0.8"/>
<circle cx="266.10" cy="295.50" r="2.22" fill="#aa0f2d" stroke="#480611" stroke-width="0.8"/>
<circle cx="270.70" cy="294.10" r="2.22" fill="#aa0f2d" stroke="#480611" stroke-width="0.8"/>
<circle cx="252.00" cy="299.40" r="2.22" fill="#aa0f2d" stroke="#480611" stroke-width="0.8"/>
<circle cx="256.90" cy="297.70" r="2.22" fill="#aa0f2d" stroke="#480611" stroke-width="0.8"/>
<circle cx="256.90" cy="303.10" r="2.22" fill="#aa0f2d" stroke="#480611" stroke-width="0.8"/>
<circle cx="261.70" cy="301.60" r="2.22" fill="#aa0f2d" stroke="#480611" stroke-width="0.8"/>
<circle cx="252.00" cy="305.40" r="2.22" fill="#aa0f2d" stroke="#480611" stroke-width="0.8"/>
<circle cx="252.00" cy="313.70" r="2.22" fill="#aa0f2d" stroke="#480611" stroke-width="0.8"/>
<circle cx="256.90" cy="314.10" r="2.22" fill="#aa0f2d" stroke="#480611" stroke-width="0.8"/>
<circle cx="261.70" cy="311.80" r="2.22" fill="#aa0f2d" stroke="#480611" stroke-width="0.8"/>
<circle cx="247.20" cy="317.60" r="2.22" fill="#aa0f2d" stroke="#480611" stroke-width="0.8"/>
<circle cx="252.00" cy="319.50" r="2.22" fill="#aa0f2d" stroke="#480611" stroke-width="0.8"/>
<circle cx="256.90" cy="320.70" r="2.22" fill="#aa0f2d" stroke="#480611" stroke-width="0.8"/>
<circle cx="261.70" cy="320.70" r="2.22" fill="#aa0f2d" stroke="#480611" stroke-width="0.8"/>
<circle cx="266.10" cy="322.80" r="2.22" fill="#aa0f2d" stroke="#480611" stroke-width="0.8"/>
<circle cx="270.70" cy="320.20" r="2.22" fill="#aa0f2d" stroke="#480611" stroke-width="0.8"/>
<circle cx="247.20" cy="323.90" r="2.22" fill="#aa0f2d" stroke="#480611" stroke-width="0.8"/>
<circle cx="252.00" cy="327.20" r="2.22" fill="#aa0f2d" stroke="#480611" stroke-width="0.8"/>
<circle cx="247.20" cy="328.70" r="2.22" fill="#aa0f2d" stroke="#480611" stroke-width="0.8"/>
<circle cx="261.70" cy="325.30" r="2.22" fill="#aa0f2d" stroke="#480611" stroke-width="0.8"/>
<circle cx="266.10" cy="327.50" r="2.22" fill="#aa0f2d" stroke="#480611" stroke-width="0.8"/>
<circle cx="256.90" cy="331.90" r="2.22" fill="#aa0f2d" stroke="#480611" stroke-width="0.8"/>
<circle cx="261.70" cy="331.60" r="2.22" fill="#aa0f2d" stroke="#480611" stroke-width="0.8"/>
<circle cx="252.00" cy="337.20" r="2.22" fill="#aa0f2d" stroke="#480611" stroke-width="0.8"/>
<circle cx="256.90" cy="339.90" r="2.22" fill="#aa0f2d" stroke="#480611" stroke-width="0.8"/>
<circle cx="261.70" cy="337.40" r="2.22" fill="#aa0f2d" stroke="#480611" stroke-width="0.8"/>
<circle cx="256.90" cy="347.60" r="2.22" fill="#aa0f2d" stroke="#480611" stroke-width="0.8"/>
<circle cx="305.40" cy="290.50" r="2.22" fill="#193f62" stroke="#081728" stroke-width="0.8"/>
<circle cx="300.50" cy="298.00" r="2.22" fill="#193f62" stroke="#081728" stroke-width="0.8"/>
<circle cx="309.90" cy="298.40" r="2.22" fill="#193f62" stroke="#081728" stroke-width="0.8"/>
<circle cx="319.10" cy="309.20" r="2.22" fill="#193f62" stroke="#081728" stroke-width="0.8"/>
<circle cx="309.90" cy="310.20" r="2.22" fill="#193f62" stroke="#081728" stroke-width="0.8"/>
<circle cx="300.50" cy="313.10" r="2.22" fill="#193f62" stroke="#081728" stroke-width="0.8"/>
<circle cx="309.90" cy="315.00" r="2.22" fill="#193f62" stroke="#081728" stroke-width="0.8"/>
<circle cx="319.10" cy="319.60" r="2.22" fill="#193f62" stroke="#081728" stroke-width="0.8"/>
<circle cx="300.50" cy="323.50" r="2.22" fill="#193f62" stroke="#081728" stroke-width="0.8"/>
<circle cx="309.90" cy="322.40" r="2.22" fill="#193f62" stroke="#081728" stroke-width="0.8"/>
<circle cx="291.50" cy="327.50" r="2.22" fill="#193f62" stroke="#081728" stroke-width="0.8"/>
<circle cx="300.50" cy="329.60" r="2.22" fill="#193f62" stroke="#081728" stroke-width="0.8"/>
<circle cx="309.90" cy="328.60" r="2.22" fill="#193f62" stroke="#081728" stroke-width="0.8"/>
<circle cx="291.50" cy="332.50" r="2.22" fill="#193f62" stroke="#081728" stroke-width="0.8"/>
<circle cx="319.10" cy="332.50" r="2.22" fill="#193f62" stroke="#081728" stroke-width="0.8"/>
<circle cx="300.50" cy="337.30" r="2.22" fill="#193f62" stroke="#081728" stroke-width="0.8"/>
<circle cx="309.90" cy="335.40" r="2.22" fill="#193f62" stroke="#081728" stroke-width="0.8"/>
<circle cx="309.90" cy="342.20" r="2.22" fill="#193f62" stroke="#081728" stroke-width="0.8"/>
<circle cx="300.50" cy="345.50" r="2.22" fill="#193f62" stroke="#081728" stroke-width="0.8"/>
<circle cx="309.90" cy="347.60" r="2.22" fill="#193f62" stroke="#081728" stroke-width="0.8"/>
<circle cx="300.50" cy="351.50" r="2.22" fill="#193f62" stroke="#081728" stroke-width="0.8"/>
<line x1="224.50" y1="244.60" x2="224.50" y2="360.60" stroke="#222" stroke-width="1.4"/>
<line x1="221.90" y1="246.60" x2="224.50" y2="246.60" stroke="#222" stroke-width="1.0"/>
<text x="218.10" y="249.55" font-size="8.2" text-anchor="end" font-weight="normal" fill="#262626" stroke="#262626" stroke-width="0.22" >15</text>
<line x1="221.90" y1="284.40" x2="224.50" y2="284.40" stroke="#222" stroke-width="1.0"/>
<text x="218.10" y="287.35" font-size="8.2" text-anchor="end" font-weight="normal" fill="#262626" stroke="#262626" stroke-width="0.22" >10</text>
<line x1="221.90" y1="322.20" x2="224.50" y2="322.20" stroke="#222" stroke-width="1.0"/>
<text x="218.10" y="325.15" font-size="8.2" text-anchor="end" font-weight="normal" fill="#262626" stroke="#262626" stroke-width="0.22" >5</text>
<line x1="221.90" y1="360.00" x2="224.50" y2="360.00" stroke="#222" stroke-width="1.0"/>
<text x="218.10" y="362.95" font-size="8.2" text-anchor="end" font-weight="normal" fill="#262626" stroke="#262626" stroke-width="0.22" >0</text>
<line x1="223.80" y1="360.00" x2="337.70" y2="360.00" stroke="#222" stroke-width="1.4"/>
<line x1="256.70" y1="360.00" x2="256.70" y2="362.60" stroke="#222" stroke-width="1.0"/>
<line x1="305.10" y1="360.00" x2="305.10" y2="362.60" stroke="#222" stroke-width="1.0"/>
<text transform="translate(256.70,374.20) scale(1,1.15)" x="0" y="0" font-size="7.8" text-anchor="middle" font-weight="normal" fill="#262626" stroke="#262626" stroke-width="0.22" >neonates</text>
<text transform="translate(305.10,374.20) scale(1,1.15)" x="0" y="0" font-size="7.8" text-anchor="middle" font-weight="normal" fill="#262626" stroke="#262626" stroke-width="0.22" >ctrl</text>
<text transform="translate(200.40,302.10) rotate(-90) scale(0.79,1)" x="0" y="0" font-size="8.8" text-anchor="middle" font-weight="bold" fill="#2a2a2a" stroke="#2a2a2a" stroke-width="0.15" dominant-baseline="central">PMA [%]</text>
<polyline points="255.30,256.70 255.30,254.50 306.90,254.50 306.90,256.70" fill="none" stroke="#222" stroke-width="1.0"/>
<circle cx="281.10" cy="249.50" r="1.15" fill="#1a1a1a"/>
<text x="353.60" y="218.20" font-size="11.2" font-weight="bold" fill="#222" stroke="#222" stroke-width="0.25">F</text>
<text x="456.20" y="232.40" font-size="9.3" text-anchor="middle" font-weight="normal" fill="#262626" stroke="#262626" stroke-width="0.22" >PMA</text>
<line x1="422.30" y1="273.80" x2="456.20" y2="320.00" stroke="#1a1a1a" stroke-width="1.0"/>
<line x1="422.30" y1="281.00" x2="456.20" y2="265.60" stroke="#1a1a1a" stroke-width="1.0"/>
<line x1="422.30" y1="283.00" x2="456.20" y2="323.10" stroke="#1a1a1a" stroke-width="1.0"/>
<line x1="422.30" y1="285.10" x2="456.20" y2="284.10" stroke="#1a1a1a" stroke-width="1.0"/>
<line x1="422.30" y1="290.60" x2="456.20" y2="253.20" stroke="#1a1a1a" stroke-width="1.0"/>
<line x1="422.30" y1="293.30" x2="456.20" y2="259.40" stroke="#1a1a1a" stroke-width="1.0"/>
<line x1="422.30" y1="296.40" x2="456.20" y2="268.60" stroke="#1a1a1a" stroke-width="1.0"/>
<line x1="422.30" y1="296.40" x2="456.20" y2="310.40" stroke="#1a1a1a" stroke-width="1.0"/>
<line x1="422.30" y1="299.50" x2="456.20" y2="288.20" stroke="#1a1a1a" stroke-width="1.0"/>
<line x1="422.30" y1="302.60" x2="456.20" y2="326.80" stroke="#1a1a1a" stroke-width="1.0"/>
<line x1="422.30" y1="305.60" x2="456.20" y2="312.80" stroke="#1a1a1a" stroke-width="1.0"/>
<line x1="422.30" y1="313.90" x2="456.20" y2="265.60" stroke="#1a1a1a" stroke-width="1.0"/>
<line x1="422.30" y1="315.90" x2="456.20" y2="294.30" stroke="#1a1a1a" stroke-width="1.0"/>
<line x1="422.30" y1="319.00" x2="456.20" y2="277.90" stroke="#1a1a1a" stroke-width="1.0"/>
<line x1="422.30" y1="325.20" x2="456.20" y2="253.20" stroke="#1a1a1a" stroke-width="1.0"/>
<line x1="422.30" y1="333.40" x2="456.20" y2="333.40" stroke="#1a1a1a" stroke-width="1.0"/>
<line x1="422.30" y1="336.50" x2="456.20" y2="336.50" stroke="#1a1a1a" stroke-width="1.0"/>
<line x1="422.30" y1="347.20" x2="456.20" y2="294.30" stroke="#1a1a1a" stroke-width="1.0"/>
<line x1="422.30" y1="270.70" x2="456.20" y2="277.90" stroke="#1a1a1a" stroke-width="1.0"/>
<line x1="422.30" y1="322.10" x2="456.20" y2="268.60" stroke="#1a1a1a" stroke-width="1.0"/>
<line x1="456.20" y1="268.60" x2="490.10" y2="310.00" stroke="#1a1a1a" stroke-width="1.0"/>
<line x1="456.20" y1="284.10" x2="490.10" y2="300.10" stroke="#1a1a1a" stroke-width="1.0"/>
<line x1="456.20" y1="294.30" x2="490.10" y2="331.30" stroke="#1a1a1a" stroke-width="1.0"/>
<line x1="456.20" y1="323.10" x2="490.10" y2="292.30" stroke="#1a1a1a" stroke-width="1.0"/>
<circle cx="422.30" cy="270.70" r="2.22" fill="#aa0f2d" stroke="#480611" stroke-width="0.8"/>
<circle cx="422.30" cy="273.80" r="2.22" fill="#aa0f2d" stroke="#480611" stroke-width="0.8"/>
<circle cx="422.30" cy="281.00" r="2.22" fill="#aa0f2d" stroke="#480611" stroke-width="0.8"/>
<circle cx="422.30" cy="283.00" r="2.22" fill="#aa0f2d" stroke="#480611" stroke-width="0.8"/>
<circle cx="422.30" cy="285.10" r="2.22" fill="#aa0f2d" stroke="#480611" stroke-width="0.8"/>
<circle cx="422.30" cy="290.60" r="2.22" fill="#aa0f2d" stroke="#480611" stroke-width="0.8"/>
<circle cx="422.30" cy="293.30" r="2.22" fill="#aa0f2d" stroke="#480611" stroke-width="0.8"/>
<circle cx="422.30" cy="296.40" r="2.22" fill="#aa0f2d" stroke="#480611" stroke-width="0.8"/>
<circle cx="422.30" cy="299.50" r="2.22" fill="#aa0f2d" stroke="#480611" stroke-width="0.8"/>
<circle cx="422.30" cy="302.60" r="2.22" fill="#aa0f2d" stroke="#480611" stroke-width="0.8"/>
<circle cx="422.30" cy="305.60" r="2.22" fill="#aa0f2d" stroke="#480611" stroke-width="0.8"/>
<circle cx="422.30" cy="313.90" r="2.22" fill="#aa0f2d" stroke="#480611" stroke-width="0.8"/>
<circle cx="422.30" cy="315.90" r="2.22" fill="#aa0f2d" stroke="#480611" stroke-width="0.8"/>
<circle cx="422.30" cy="319.00" r="2.22" fill="#aa0f2d" stroke="#480611" stroke-width="0.8"/>
<circle cx="422.30" cy="322.10" r="2.22" fill="#aa0f2d" stroke="#480611" stroke-width="0.8"/>
<circle cx="422.30" cy="325.20" r="2.22" fill="#aa0f2d" stroke="#480611" stroke-width="0.8"/>
<circle cx="422.30" cy="327.20" r="2.22" fill="#aa0f2d" stroke="#480611" stroke-width="0.8"/>
<circle cx="422.30" cy="330.30" r="2.22" fill="#aa0f2d" stroke="#480611" stroke-width="0.8"/>
<circle cx="422.30" cy="333.40" r="2.22" fill="#aa0f2d" stroke="#480611" stroke-width="0.8"/>
<circle cx="422.30" cy="336.50" r="2.22" fill="#aa0f2d" stroke="#480611" stroke-width="0.8"/>
<circle cx="422.30" cy="339.60" r="2.22" fill="#aa0f2d" stroke="#480611" stroke-width="0.8"/>
<circle cx="422.30" cy="347.20" r="2.22" fill="#aa0f2d" stroke="#480611" stroke-width="0.8"/>
<circle cx="422.30" cy="352.90" r="2.22" fill="#aa0f2d" stroke="#480611" stroke-width="0.8"/>
<circle cx="456.20" cy="253.20" r="2.22" fill="#aa0f2d" stroke="#480611" stroke-width="0.8"/>
<circle cx="456.20" cy="259.40" r="2.22" fill="#aa0f2d" stroke="#480611" stroke-width="0.8"/>
<circle cx="456.20" cy="265.60" r="2.22" fill="#aa0f2d" stroke="#480611" stroke-width="0.8"/>
<circle cx="456.20" cy="268.60" r="2.22" fill="#aa0f2d" stroke="#480611" stroke-width="0.8"/>
<circle cx="456.20" cy="277.90" r="2.22" fill="#aa0f2d" stroke="#480611" stroke-width="0.8"/>
<circle cx="456.20" cy="284.10" r="2.22" fill="#aa0f2d" stroke="#480611" stroke-width="0.8"/>
<circle cx="456.20" cy="288.20" r="2.22" fill="#aa0f2d" stroke="#480611" stroke-width="0.8"/>
<circle cx="456.20" cy="294.30" r="2.22" fill="#aa0f2d" stroke="#480611" stroke-width="0.8"/>
<circle cx="456.20" cy="310.40" r="2.22" fill="#aa0f2d" stroke="#480611" stroke-width="0.8"/>
<circle cx="456.20" cy="312.80" r="2.22" fill="#aa0f2d" stroke="#480611" stroke-width="0.8"/>
<circle cx="456.20" cy="320.00" r="2.22" fill="#aa0f2d" stroke="#480611" stroke-width="0.8"/>
<circle cx="456.20" cy="323.10" r="2.22" fill="#aa0f2d" stroke="#480611" stroke-width="0.8"/>
<circle cx="456.20" cy="326.80" r="2.22" fill="#aa0f2d" stroke="#480611" stroke-width="0.8"/>
<circle cx="456.20" cy="333.40" r="2.22" fill="#aa0f2d" stroke="#480611" stroke-width="0.8"/>
<circle cx="456.20" cy="336.50" r="2.22" fill="#aa0f2d" stroke="#480611" stroke-width="0.8"/>
<circle cx="490.10" cy="292.30" r="2.22" fill="#aa0f2d" stroke="#480611" stroke-width="0.8"/>
<circle cx="490.10" cy="300.10" r="2.22" fill="#aa0f2d" stroke="#480611" stroke-width="0.8"/>
<circle cx="490.10" cy="310.00" r="2.22" fill="#aa0f2d" stroke="#480611" stroke-width="0.8"/>
<circle cx="490.10" cy="331.30" r="2.22" fill="#aa0f2d" stroke="#480611" stroke-width="0.8"/>
<line x1="399.70" y1="244.00" x2="399.70" y2="360.60" stroke="#222" stroke-width="1.4"/>
<line x1="397.10" y1="246.00" x2="399.70" y2="246.00" stroke="#222" stroke-width="1.0"/>
<text x="393.30" y="248.95" font-size="8.2" text-anchor="end" font-weight="normal" fill="#262626" stroke="#262626" stroke-width="0.22" >15</text>
<line x1="397.10" y1="284.00" x2="399.70" y2="284.00" stroke="#222" stroke-width="1.0"/>
<text x="393.30" y="286.95" font-size="8.2" text-anchor="end" font-weight="normal" fill="#262626" stroke="#262626" stroke-width="0.22" >10</text>
<line x1="397.10" y1="322.00" x2="399.70" y2="322.00" stroke="#222" stroke-width="1.0"/>
<text x="393.30" y="324.95" font-size="8.2" text-anchor="end" font-weight="normal" fill="#262626" stroke="#262626" stroke-width="0.22" >5</text>
<line x1="397.10" y1="360.00" x2="399.70" y2="360.00" stroke="#222" stroke-width="1.0"/>
<text x="393.30" y="362.95" font-size="8.2" text-anchor="end" font-weight="normal" fill="#262626" stroke="#262626" stroke-width="0.22" >0</text>
<line x1="399.00" y1="360.00" x2="512.90" y2="360.00" stroke="#222" stroke-width="1.4"/>
<line x1="422.30" y1="360.00" x2="422.30" y2="362.60" stroke="#222" stroke-width="1.0"/>
<line x1="456.20" y1="360.00" x2="456.20" y2="362.60" stroke="#222" stroke-width="1.0"/>
<line x1="490.10" y1="360.00" x2="490.10" y2="362.60" stroke="#222" stroke-width="1.0"/>
<text x="420.80" y="373.80" font-size="8.2" text-anchor="middle" font-weight="normal" fill="#262626" stroke="#262626" stroke-width="0.12" >t</text>
<text x="422.40" y="376.00" font-size="6.4" text-anchor="start" font-weight="normal" fill="#262626" stroke="#262626" stroke-width="0.05" >1</text>
<text x="454.70" y="373.80" font-size="8.2" text-anchor="middle" font-weight="normal" fill="#262626" stroke="#262626" stroke-width="0.12" >t</text>
<text x="456.30" y="376.00" font-size="6.4" text-anchor="start" font-weight="normal" fill="#262626" stroke="#262626" stroke-width="0.05" >2</text>
<text x="488.60" y="373.80" font-size="8.2" text-anchor="middle" font-weight="normal" fill="#262626" stroke="#262626" stroke-width="0.12" >t</text>
<text x="490.20" y="376.00" font-size="6.4" text-anchor="start" font-weight="normal" fill="#262626" stroke="#262626" stroke-width="0.05" >3</text>
<line x1="420.50" y1="380.90" x2="492.00" y2="380.90" stroke="#6c6c6c" stroke-width="1.7" stroke-linecap="round"/>
<text transform="translate(456.25,391.40) scale(1,1.15)" x="0" y="0" font-size="7.8" text-anchor="middle" font-weight="normal" fill="#262626" stroke="#262626" stroke-width="0.22" >neonates</text>
<text transform="translate(370.80,302.10) rotate(-90) scale(0.79,1)" x="0" y="0" font-size="8.8" text-anchor="middle" font-weight="bold" fill="#2a2a2a" stroke="#2a2a2a" stroke-width="0.15" dominant-baseline="central">PMA [%]</text>
<line x1="423.00" y1="247.70" x2="491.20" y2="247.70" stroke="#222" stroke-width="1.2"/>
<text transform="translate(457.10,245.00) scale(1,1.12)" x="0" y="0" font-size="7.7" text-anchor="middle" font-weight="normal" fill="#262626" stroke="#262626" stroke-width="0.22" >ns</text>
<text x="11.90" y="419.30" font-size="11.2" font-weight="bold" fill="#222" stroke="#222" stroke-width="0.25">G</text>
<text x="110.30" y="434.40" font-size="9.6" text-anchor="middle" font-weight="normal" fill="#262626" stroke="#262626" stroke-width="0.22" >PLT-CD4</text>
<rect x="71.00" y="557.95" width="30.00" height="3.55" fill="#e2877d"/>
<rect x="118.70" y="553.70" width="31.90" height="7.80" fill="#959fc6"/>
<line x1="134.40" y1="548.60" x2="134.40" y2="556.00" stroke="#6b6258" stroke-width="1.0"/>
<line x1="128.40" y1="548.60" x2="140.40" y2="548.60" stroke="#6b6258" stroke-width="1.0"/>
<line x1="128.40" y1="556.00" x2="140.40" y2="556.00" stroke="#6b6258" stroke-width="1.0"/>
<circle cx="85.75" cy="476.75" r="2.22" fill="#aa0f2d" stroke="#480611" stroke-width="0.8"/>
<circle cx="85.75" cy="487.00" r="2.22" fill="#aa0f2d" stroke="#480611" stroke-width="0.8"/>
<circle cx="85.90" cy="533.00" r="2.22" fill="#aa0f2d" stroke="#480611" stroke-width="0.8"/>
<circle cx="72.00" cy="554.00" r="2.22" fill="#aa0f2d" stroke="#480611" stroke-width="0.8"/>
<circle cx="73.00" cy="557.50" r="2.22" fill="#aa0f2d" stroke="#480611" stroke-width="0.8"/>
<circle cx="75.10" cy="551.80" r="2.22" fill="#aa0f2d" stroke="#480611" stroke-width="0.8"/>
<circle cx="76.10" cy="555.30" r="2.22" fill="#aa0f2d" stroke="#480611" stroke-width="0.8"/>
<circle cx="75.10" cy="558.80" r="2.22" fill="#aa0f2d" stroke="#480611" stroke-width="0.8"/>
<circle cx="78.20" cy="549.20" r="2.22" fill="#aa0f2d" stroke="#480611" stroke-width="0.8"/>
<circle cx="79.20" cy="552.70" r="2.22" fill="#aa0f2d" stroke="#480611" stroke-width="0.8"/>
<circle cx="78.20" cy="556.20" r="2.22" fill="#aa0f2d" stroke="#480611" stroke-width="0.8"/>
<circle cx="81.30" cy="546.80" r="2.22" fill="#aa0f2d" stroke="#480611" stroke-width="0.8"/>
<circle cx="82.30" cy="550.30" r="2.22" fill="#aa0f2d" stroke="#480611" stroke-width="0.8"/>
<circle cx="81.30" cy="553.80" r="2.22" fill="#aa0f2d" stroke="#480611" stroke-width="0.8"/>
<circle cx="82.30" cy="557.30" r="2.22" fill="#aa0f2d" stroke="#480611" stroke-width="0.8"/>
<circle cx="84.20" cy="544.60" r="2.22" fill="#aa0f2d" stroke="#480611" stroke-width="0.8"/>
<circle cx="85.20" cy="548.10" r="2.22" fill="#aa0f2d" stroke="#480611" stroke-width="0.8"/>
<circle cx="84.20" cy="551.60" r="2.22" fill="#aa0f2d" stroke="#480611" stroke-width="0.8"/>
<circle cx="85.20" cy="555.10" r="2.22" fill="#aa0f2d" stroke="#480611" stroke-width="0.8"/>
<circle cx="84.20" cy="558.60" r="2.22" fill="#aa0f2d" stroke="#480611" stroke-width="0.8"/>
<circle cx="87.10" cy="543.60" r="2.22" fill="#aa0f2d" stroke="#480611" stroke-width="0.8"/>
<circle cx="88.10" cy="547.10" r="2.22" fill="#aa0f2d" stroke="#480611" stroke-width="0.8"/>
<circle cx="87.10" cy="550.60" r="2.22" fill="#aa0f2d" stroke="#480611" stroke-width="0.8"/>
<circle cx="88.10" cy="554.10" r="2.22" fill="#aa0f2d" stroke="#480611" stroke-width="0.8"/>
<circle cx="87.10" cy="557.60" r="2.22" fill="#aa0f2d" stroke="#480611" stroke-width="0.8"/>
<circle cx="90.00" cy="545.40" r="2.22" fill="#aa0f2d" stroke="#480611" stroke-width="0.8"/>
<circle cx="91.00" cy="548.90" r="2.22" fill="#aa0f2d" stroke="#480611" stroke-width="0.8"/>
<circle cx="90.00" cy="552.40" r="2.22" fill="#aa0f2d" stroke="#480611" stroke-width="0.8"/>
<circle cx="91.00" cy="555.90" r="2.22" fill="#aa0f2d" stroke="#480611" stroke-width="0.8"/>
<circle cx="90.00" cy="559.40" r="2.22" fill="#aa0f2d" stroke="#480611" stroke-width="0.8"/>
<circle cx="92.90" cy="547.80" r="2.22" fill="#aa0f2d" stroke="#480611" stroke-width="0.8"/>
<circle cx="93.90" cy="551.30" r="2.22" fill="#aa0f2d" stroke="#480611" stroke-width="0.8"/>
<circle cx="92.90" cy="554.80" r="2.22" fill="#aa0f2d" stroke="#480611" stroke-width="0.8"/>
<circle cx="93.90" cy="558.30" r="2.22" fill="#aa0f2d" stroke="#480611" stroke-width="0.8"/>
<circle cx="95.80" cy="550.40" r="2.22" fill="#aa0f2d" stroke="#480611" stroke-width="0.8"/>
<circle cx="96.80" cy="553.90" r="2.22" fill="#aa0f2d" stroke="#480611" stroke-width="0.8"/>
<circle cx="95.80" cy="557.40" r="2.22" fill="#aa0f2d" stroke="#480611" stroke-width="0.8"/>
<circle cx="98.70" cy="552.60" r="2.22" fill="#aa0f2d" stroke="#480611" stroke-width="0.8"/>
<circle cx="99.70" cy="556.10" r="2.22" fill="#aa0f2d" stroke="#480611" stroke-width="0.8"/>
<circle cx="100.70" cy="554.60" r="2.22" fill="#aa0f2d" stroke="#480611" stroke-width="0.8"/>
<circle cx="101.70" cy="558.10" r="2.22" fill="#aa0f2d" stroke="#480611" stroke-width="0.8"/>
<circle cx="137.30" cy="538.40" r="2.22" fill="#193f62" stroke="#081728" stroke-width="0.8"/>
<circle cx="131.30" cy="542.60" r="2.22" fill="#193f62" stroke="#081728" stroke-width="0.8"/>
<circle cx="133.80" cy="543.20" r="2.22" fill="#193f62" stroke="#081728" stroke-width="0.8"/>
<circle cx="139.80" cy="543.80" r="2.22" fill="#193f62" stroke="#081728" stroke-width="0.8"/>
<circle cx="120.50" cy="548.80" r="2.22" fill="#193f62" stroke="#081728" stroke-width="0.8"/>
<circle cx="136.30" cy="548.00" r="2.22" fill="#193f62" stroke="#081728" stroke-width="0.8"/>
<circle cx="139.80" cy="548.40" r="2.22" fill="#193f62" stroke="#081728" stroke-width="0.8"/>
<circle cx="121.70" cy="552.60" r="2.22" fill="#193f62" stroke="#081728" stroke-width="0.8"/>
<circle cx="127.10" cy="552.60" r="2.22" fill="#193f62" stroke="#081728" stroke-width="0.8"/>
<circle cx="131.70" cy="552.60" r="2.22" fill="#193f62" stroke="#081728" stroke-width="0.8"/>
<circle cx="136.70" cy="552.60" r="2.22" fill="#193f62" stroke="#081728" stroke-width="0.8"/>
<circle cx="142.50" cy="552.60" r="2.22" fill="#193f62" stroke="#081728" stroke-width="0.8"/>
<circle cx="120.50" cy="555.30" r="2.22" fill="#193f62" stroke="#081728" stroke-width="0.8"/>
<circle cx="131.70" cy="556.50" r="2.22" fill="#193f62" stroke="#081728" stroke-width="0.8"/>
<circle cx="137.00" cy="555.30" r="2.22" fill="#193f62" stroke="#081728" stroke-width="0.8"/>
<circle cx="142.50" cy="557.20" r="2.22" fill="#193f62" stroke="#081728" stroke-width="0.8"/>
<circle cx="147.80" cy="554.90" r="2.22" fill="#193f62" stroke="#081728" stroke-width="0.8"/>
<circle cx="125.00" cy="557.50" r="2.22" fill="#193f62" stroke="#081728" stroke-width="0.8"/>
<circle cx="127.50" cy="550.00" r="2.22" fill="#193f62" stroke="#081728" stroke-width="0.8"/>
<circle cx="145.00" cy="551.50" r="2.22" fill="#193f62" stroke="#081728" stroke-width="0.8"/>
<circle cx="141.00" cy="554.00" r="2.22" fill="#193f62" stroke="#081728" stroke-width="0.8"/>
<line x1="53.80" y1="446.02" x2="53.80" y2="562.10" stroke="#222" stroke-width="1.4"/>
<line x1="51.20" y1="448.02" x2="53.80" y2="448.02" stroke="#222" stroke-width="1.0"/>
<text x="47.40" y="450.97" font-size="8.2" text-anchor="end" font-weight="normal" fill="#262626" stroke="#262626" stroke-width="0.22" >80</text>
<line x1="51.20" y1="476.39" x2="53.80" y2="476.39" stroke="#222" stroke-width="1.0"/>
<text x="47.40" y="479.34" font-size="8.2" text-anchor="end" font-weight="normal" fill="#262626" stroke="#262626" stroke-width="0.22" >60</text>
<line x1="51.20" y1="504.76" x2="53.80" y2="504.76" stroke="#222" stroke-width="1.0"/>
<text x="47.40" y="507.71" font-size="8.2" text-anchor="end" font-weight="normal" fill="#262626" stroke="#262626" stroke-width="0.22" >40</text>
<line x1="51.20" y1="533.13" x2="53.80" y2="533.13" stroke="#222" stroke-width="1.0"/>
<text x="47.40" y="536.08" font-size="8.2" text-anchor="end" font-weight="normal" fill="#262626" stroke="#262626" stroke-width="0.22" >20</text>
<line x1="51.20" y1="561.50" x2="53.80" y2="561.50" stroke="#222" stroke-width="1.0"/>
<text x="47.40" y="564.45" font-size="8.2" text-anchor="end" font-weight="normal" fill="#262626" stroke="#262626" stroke-width="0.22" >0</text>
<line x1="53.10" y1="561.50" x2="166.90" y2="561.50" stroke="#222" stroke-width="1.4"/>
<line x1="85.90" y1="561.50" x2="85.90" y2="564.10" stroke="#222" stroke-width="1.0"/>
<line x1="134.20" y1="561.50" x2="134.20" y2="564.10" stroke="#222" stroke-width="1.0"/>
<text transform="translate(85.90,575.00) scale(1,1.15)" x="0" y="0" font-size="7.8" text-anchor="middle" font-weight="normal" fill="#262626" stroke="#262626" stroke-width="0.22" >neonates</text>
<text transform="translate(134.20,575.00) scale(1,1.15)" x="0" y="0" font-size="7.8" text-anchor="middle" font-weight="normal" fill="#262626" stroke="#262626" stroke-width="0.22" >ctrl</text>
<text transform="translate(29.40,503.70) rotate(-90) scale(0.8,1)" x="0" y="0" font-size="8.8" text-anchor="middle" font-weight="bold" fill="#2a2a2a" stroke="#2a2a2a" stroke-width="0.15" dominant-baseline="central">PLT-CD4 [%]</text>
<line x1="77.30" y1="449.30" x2="145.30" y2="449.30" stroke="#222" stroke-width="1.2"/>
<text transform="translate(111.30,446.60) scale(1,1.12)" x="0" y="0" font-size="7.7" text-anchor="middle" font-weight="normal" fill="#262626" stroke="#262626" stroke-width="0.22" >ns</text>
<text x="182.80" y="419.30" font-size="11.2" font-weight="bold" fill="#222" stroke="#222" stroke-width="0.25">H</text>
<text x="281.30" y="434.40" font-size="9.6" text-anchor="middle" font-weight="normal" fill="#262626" stroke="#262626" stroke-width="0.22" >PLT-CD8</text>
<circle cx="256.60" cy="477.50" r="2.22" fill="#aa0f2d" stroke="#480611" stroke-width="0.8"/>
<circle cx="256.60" cy="549.10" r="2.22" fill="#aa0f2d" stroke="#480611" stroke-width="0.8"/>
<circle cx="243.70" cy="558.50" r="2.22" fill="#aa0f2d" stroke="#480611" stroke-width="0.8"/>
<circle cx="246.80" cy="559.60" r="2.22" fill="#aa0f2d" stroke="#480611" stroke-width="0.8"/>
<circle cx="250.60" cy="560.00" r="2.22" fill="#aa0f2d" stroke="#480611" stroke-width="0.8"/>
<circle cx="254.50" cy="557.00" r="2.22" fill="#aa0f2d" stroke="#480611" stroke-width="0.8"/>
<circle cx="257.50" cy="555.40" r="2.22" fill="#aa0f2d" stroke="#480611" stroke-width="0.8"/>
<circle cx="258.70" cy="558.50" r="2.22" fill="#aa0f2d" stroke="#480611" stroke-width="0.8"/>
<circle cx="256.80" cy="561.50" r="2.22" fill="#aa0f2d" stroke="#480611" stroke-width="0.8"/>
<circle cx="261.40" cy="559.20" r="2.22" fill="#aa0f2d" stroke="#480611" stroke-width="0.8"/>
<circle cx="265.20" cy="558.50" r="2.22" fill="#aa0f2d" stroke="#480611" stroke-width="0.8"/>
<circle cx="268.30" cy="558.80" r="2.22" fill="#aa0f2d" stroke="#480611" stroke-width="0.8"/>
<circle cx="270.60" cy="560.40" r="2.22" fill="#aa0f2d" stroke="#480611" stroke-width="0.8"/>
<circle cx="253.00" cy="561.00" r="2.22" fill="#aa0f2d" stroke="#480611" stroke-width="0.8"/>
<circle cx="248.30" cy="562.30" r="2.22" fill="#aa0f2d" stroke="#480611" stroke-width="0.8"/>
<circle cx="267.50" cy="562.30" r="2.22" fill="#aa0f2d" stroke="#480611" stroke-width="0.8"/>
<circle cx="259.00" cy="563.00" r="2.22" fill="#aa0f2d" stroke="#480611" stroke-width="0.8"/>
<circle cx="262.80" cy="562.00" r="2.22" fill="#aa0f2d" stroke="#480611" stroke-width="0.8"/>
<circle cx="244.50" cy="561.80" r="2.22" fill="#aa0f2d" stroke="#480611" stroke-width="0.8"/>
<circle cx="251.50" cy="557.50" r="2.22" fill="#aa0f2d" stroke="#480611" stroke-width="0.8"/>
<circle cx="300.50" cy="548.80" r="2.22" fill="#193f62" stroke="#081728" stroke-width="0.8"/>
<circle cx="297.80" cy="551.90" r="2.22" fill="#193f62" stroke="#081728" stroke-width="0.8"/>
<circle cx="307.50" cy="550.80" r="2.22" fill="#193f62" stroke="#081728" stroke-width="0.8"/>
<circle cx="311.70" cy="554.20" r="2.22" fill="#193f62" stroke="#081728" stroke-width="0.8"/>
<circle cx="314.80" cy="555.00" r="2.22" fill="#193f62" stroke="#081728" stroke-width="0.8"/>
<circle cx="302.50" cy="555.40" r="2.22" fill="#193f62" stroke="#081728" stroke-width="0.8"/>
<circle cx="292.50" cy="556.90" r="2.22" fill="#193f62" stroke="#081728" stroke-width="0.8"/>
<circle cx="290.90" cy="559.60" r="2.22" fill="#193f62" stroke="#081728" stroke-width="0.8"/>
<circle cx="295.50" cy="558.50" r="2.22" fill="#193f62" stroke="#081728" stroke-width="0.8"/>
<circle cx="300.20" cy="559.20" r="2.22" fill="#193f62" stroke="#081728" stroke-width="0.8"/>
<circle cx="304.40" cy="558.50" r="2.22" fill="#193f62" stroke="#081728" stroke-width="0.8"/>
<circle cx="308.60" cy="559.20" r="2.22" fill="#193f62" stroke="#081728" stroke-width="0.8"/>
<circle cx="313.20" cy="559.20" r="2.22" fill="#193f62" stroke="#081728" stroke-width="0.8"/>
<circle cx="317.80" cy="559.60" r="2.22" fill="#193f62" stroke="#081728" stroke-width="0.8"/>
<circle cx="319.40" cy="560.00" r="2.22" fill="#193f62" stroke="#081728" stroke-width="0.8"/>
<circle cx="301.70" cy="561.50" r="2.22" fill="#193f62" stroke="#081728" stroke-width="0.8"/>
<circle cx="307.00" cy="561.20" r="2.22" fill="#193f62" stroke="#081728" stroke-width="0.8"/>
<circle cx="310.90" cy="561.90" r="2.22" fill="#193f62" stroke="#081728" stroke-width="0.8"/>
<circle cx="297.80" cy="561.50" r="2.22" fill="#193f62" stroke="#081728" stroke-width="0.8"/>
<circle cx="306.00" cy="554.00" r="2.22" fill="#193f62" stroke="#081728" stroke-width="0.8"/>
<line x1="224.50" y1="446.02" x2="224.50" y2="562.10" stroke="#222" stroke-width="1.4"/>
<line x1="221.90" y1="448.02" x2="224.50" y2="448.02" stroke="#222" stroke-width="1.0"/>
<text x="218.10" y="450.97" font-size="8.2" text-anchor="end" font-weight="normal" fill="#262626" stroke="#262626" stroke-width="0.22" >80</text>
<line x1="221.90" y1="476.39" x2="224.50" y2="476.39" stroke="#222" stroke-width="1.0"/>
<text x="218.10" y="479.34" font-size="8.2" text-anchor="end" font-weight="normal" fill="#262626" stroke="#262626" stroke-width="0.22" >60</text>
<line x1="221.90" y1="504.76" x2="224.50" y2="504.76" stroke="#222" stroke-width="1.0"/>
<text x="218.10" y="507.71" font-size="8.2" text-anchor="end" font-weight="normal" fill="#262626" stroke="#262626" stroke-width="0.22" >40</text>
<line x1="221.90" y1="533.13" x2="224.50" y2="533.13" stroke="#222" stroke-width="1.0"/>
<text x="218.10" y="536.08" font-size="8.2" text-anchor="end" font-weight="normal" fill="#262626" stroke="#262626" stroke-width="0.22" >20</text>
<line x1="221.90" y1="561.50" x2="224.50" y2="561.50" stroke="#222" stroke-width="1.0"/>
<text x="218.10" y="564.45" font-size="8.2" text-anchor="end" font-weight="normal" fill="#262626" stroke="#262626" stroke-width="0.22" >0</text>
<line x1="223.80" y1="561.50" x2="337.70" y2="561.50" stroke="#222" stroke-width="1.4"/>
<line x1="257.00" y1="561.50" x2="257.00" y2="564.10" stroke="#222" stroke-width="1.0"/>
<line x1="305.10" y1="561.50" x2="305.10" y2="564.10" stroke="#222" stroke-width="1.0"/>
<text transform="translate(257.00,575.00) scale(1,1.15)" x="0" y="0" font-size="7.8" text-anchor="middle" font-weight="normal" fill="#262626" stroke="#262626" stroke-width="0.22" >neonates</text>
<text transform="translate(305.10,575.00) scale(1,1.15)" x="0" y="0" font-size="7.8" text-anchor="middle" font-weight="normal" fill="#262626" stroke="#262626" stroke-width="0.22" >ctrl</text>
<text transform="translate(200.10,503.60) rotate(-90) scale(0.79,1)" x="0" y="0" font-size="8.8" text-anchor="middle" font-weight="bold" fill="#2a2a2a" stroke="#2a2a2a" stroke-width="0.15" dominant-baseline="central">PLT-CD8 [%]</text>
<line x1="248.00" y1="449.30" x2="315.70" y2="449.30" stroke="#222" stroke-width="1.2"/>
<text transform="translate(281.85,446.60) scale(1,1.12)" x="0" y="0" font-size="7.7" text-anchor="middle" font-weight="normal" fill="#262626" stroke="#262626" stroke-width="0.22" >ns</text>
<text x="354.00" y="419.30" font-size="11.2" font-weight="bold" fill="#222" stroke="#222" stroke-width="0.25">I</text>
<rect x="416.30" y="520.50" width="31.70" height="41.10" fill="#3aaa35"/>
<rect x="464.50" y="489.50" width="31.80" height="72.10" fill="#f39208"/>
<line x1="432.20" y1="496.30" x2="432.20" y2="544.30" stroke="#1a1a1a" stroke-width="1.0"/>
<line x1="424.40" y1="496.30" x2="440.00" y2="496.30" stroke="#1a1a1a" stroke-width="1.0"/>
<line x1="424.40" y1="544.30" x2="440.00" y2="544.30" stroke="#1a1a1a" stroke-width="1.0"/>
<line x1="480.40" y1="463.30" x2="480.40" y2="515.50" stroke="#1a1a1a" stroke-width="1.0"/>
<line x1="472.60" y1="463.30" x2="488.20" y2="463.30" stroke="#1a1a1a" stroke-width="1.0"/>
<line x1="472.60" y1="515.50" x2="488.20" y2="515.50" stroke="#1a1a1a" stroke-width="1.0"/>
<circle cx="432.20" cy="495.50" r="2.2" fill="#141414" stroke="#141414" stroke-width="0.8"/>
<circle cx="432.20" cy="505.50" r="2.2" fill="#141414" stroke="#141414" stroke-width="0.8"/>
<circle cx="432.20" cy="533.00" r="2.2" fill="#141414" stroke="#141414" stroke-width="0.8"/>
<circle cx="432.20" cy="546.80" r="2.2" fill="#141414" stroke="#141414" stroke-width="0.8"/>
<circle cx="480.40" cy="468.00" r="2.2" fill="#141414" stroke="#141414" stroke-width="0.8"/>
<circle cx="480.40" cy="475.50" r="2.2" fill="#141414" stroke="#141414" stroke-width="0.8"/>
<circle cx="480.40" cy="488.00" r="2.2" fill="#141414" stroke="#141414" stroke-width="0.8"/>
<circle cx="480.40" cy="526.00" r="2.2" fill="#141414" stroke="#141414" stroke-width="0.8"/>
<line x1="399.70" y1="445.75" x2="399.70" y2="562.20" stroke="#222" stroke-width="1.4"/>
<line x1="397.10" y1="447.75" x2="399.70" y2="447.75" stroke="#222" stroke-width="1.0"/>
<text x="393.30" y="450.70" font-size="8.2" text-anchor="end" font-weight="normal" fill="#262626" stroke="#262626" stroke-width="0.22" >1.5</text>
<line x1="397.10" y1="485.70" x2="399.70" y2="485.70" stroke="#222" stroke-width="1.0"/>
<text x="393.30" y="488.65" font-size="8.2" text-anchor="end" font-weight="normal" fill="#262626" stroke="#262626" stroke-width="0.22" >1.0</text>
<line x1="397.10" y1="523.65" x2="399.70" y2="523.65" stroke="#222" stroke-width="1.0"/>
<text x="393.30" y="526.60" font-size="8.2" text-anchor="end" font-weight="normal" fill="#262626" stroke="#262626" stroke-width="0.22" >0.5</text>
<line x1="397.10" y1="561.60" x2="399.70" y2="561.60" stroke="#222" stroke-width="1.0"/>
<text x="393.30" y="564.55" font-size="8.2" text-anchor="end" font-weight="normal" fill="#262626" stroke="#262626" stroke-width="0.22" >0.0</text>
<line x1="399.00" y1="561.60" x2="512.90" y2="561.60" stroke="#222" stroke-width="1.4"/>
<line x1="432.20" y1="561.60" x2="432.20" y2="564.20" stroke="#222" stroke-width="1.0"/>
<line x1="480.40" y1="561.60" x2="480.40" y2="564.20" stroke="#222" stroke-width="1.0"/>
<text x="432.20" y="574.00" font-size="7.8" text-anchor="middle" font-weight="normal" fill="#262626" stroke="#262626" stroke-width="0.22" >PSGL-1</text>
<text x="480.40" y="574.00" font-size="7.8" text-anchor="middle" font-weight="normal" fill="#262626" stroke="#262626" stroke-width="0.22" >GPIIb/IIIa</text>
<text transform="translate(370.20,503.40) rotate(-90) scale(0.73,1)" x="0" y="0" font-size="8.8" text-anchor="middle" font-weight="bold" fill="#2a2a2a" stroke="#2a2a2a" stroke-width="0.15" dominant-baseline="central">Fold change</text>
<polyline points="430.30,446.60 430.30,444.80 482.30,444.80 482.30,446.60" fill="none" stroke="#222" stroke-width="1.0"/>
<circle cx="456.30" cy="439.80" r="1.15" fill="#1a1a1a"/>
<rect x="0.5" y="0.5" width="519" height="583" fill="none" stroke="#555" stroke-width="1"/>
</svg>
</body></html>
